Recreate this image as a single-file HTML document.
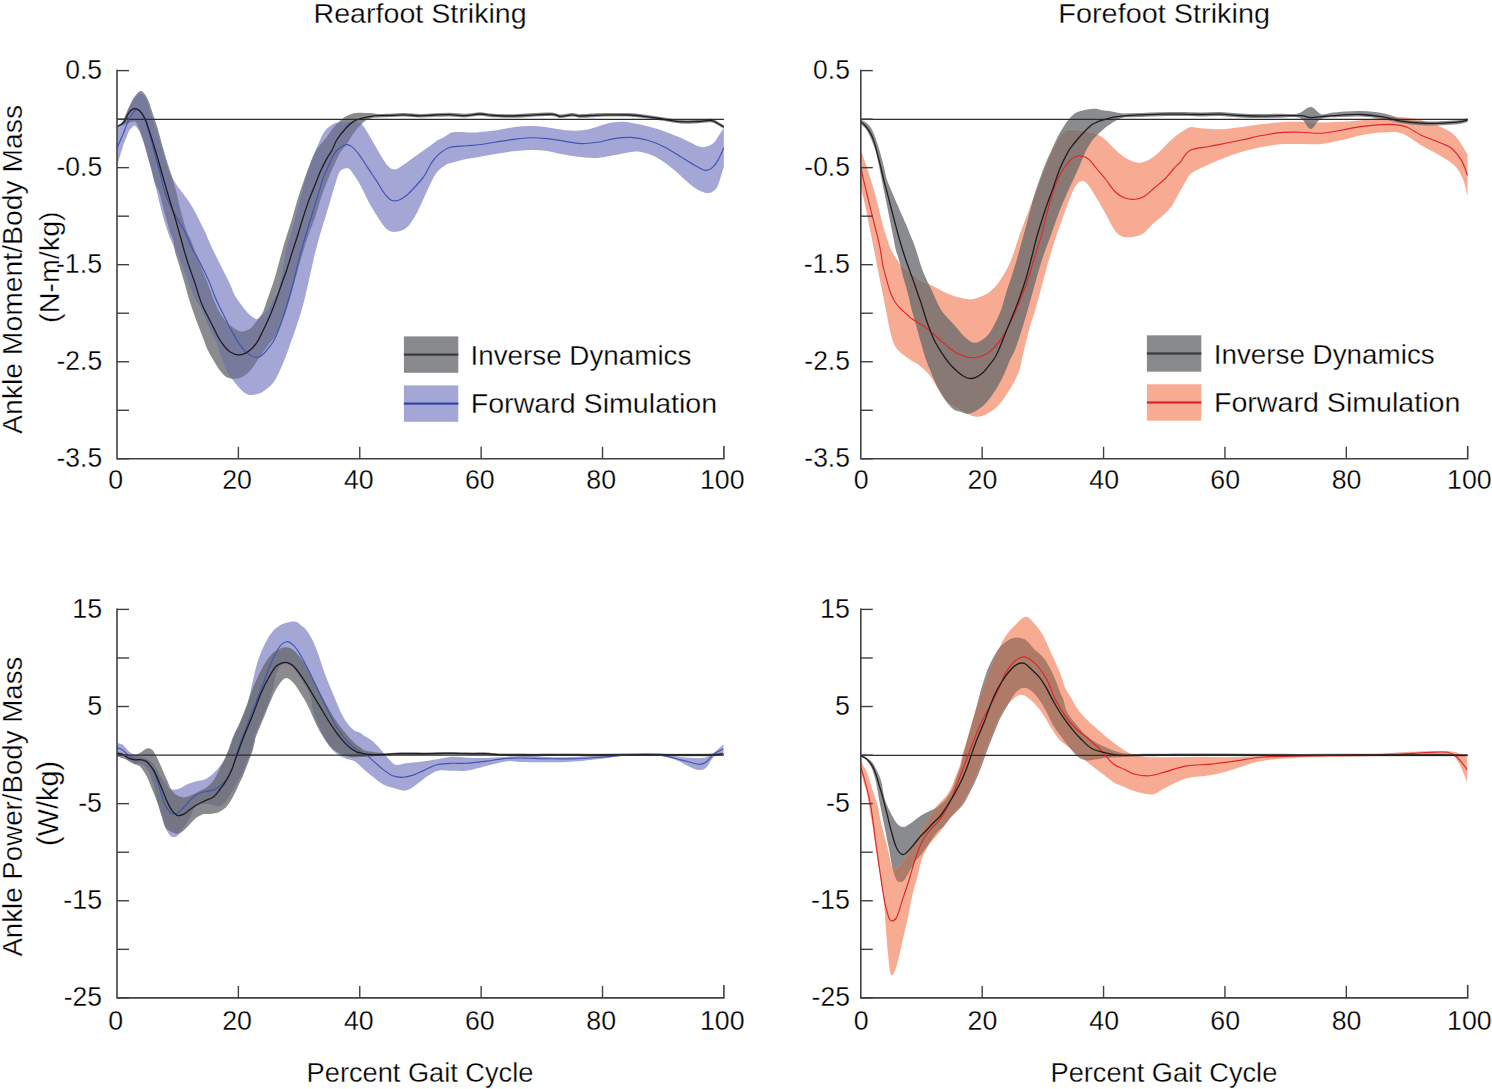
<!DOCTYPE html><html><head><meta charset="utf-8"><style>html,body{margin:0;padding:0;background:#fff;overflow:hidden}svg{display:block}</style></head><body>
<svg width="1492" height="1089" viewBox="0 0 1492 1089" font-family="Liberation Sans, sans-serif"><style>text{stroke:#fff;stroke-width:0.3px;paint-order:fill}</style>
<rect width="1492" height="1089" fill="#fff"/>
<defs><clipPath id="cgTL"><path d="M117.2,125.7 C117.7,125.4 119.2,124.7 120.0,124.1 C120.8,123.5 121.4,123.1 122.0,122.3 C122.6,121.5 122.8,120.9 123.5,119.5 C124.2,118.1 125.2,115.8 126.0,114.0 C126.8,112.2 127.3,110.7 128.4,108.4 C129.5,106.1 131.3,102.2 132.5,100.0 C133.7,97.8 134.1,97.0 135.5,95.5 C136.9,94.0 139.1,90.6 141.1,91.1 C143.1,91.6 145.6,95.1 147.4,98.4 C149.2,101.8 150.3,106.3 152.0,111.2 C153.7,116.1 155.6,121.3 157.5,127.8 C159.4,134.3 161.9,144.1 163.6,150.0 C165.3,155.9 166.2,158.8 167.5,163.0 C168.8,167.2 170.0,170.5 171.4,175.0 C172.8,179.5 174.5,185.0 175.8,190.0 C177.1,195.0 178.1,200.1 179.3,205.2 C180.6,210.2 182.0,215.7 183.3,220.3 C184.7,224.9 186.1,229.6 187.4,232.9 C188.7,236.2 189.5,236.5 190.9,240.0 C192.3,243.5 194.2,249.2 195.9,253.8 C197.7,258.4 199.6,262.9 201.4,267.5 C203.2,272.1 205.2,276.7 206.9,281.3 C208.7,285.9 210.4,291.1 211.9,295.0 C213.4,298.9 214.4,301.7 215.9,304.9 C217.4,308.1 219.0,311.4 220.8,314.3 C222.6,317.2 224.8,320.2 226.9,322.5 C229.0,324.8 231.3,326.6 233.5,328.1 C235.7,329.6 238.1,330.9 240.1,331.4 C242.1,331.8 243.8,331.4 245.6,330.8 C247.4,330.2 249.3,329.8 251.1,328.1 C252.9,326.5 255.1,322.8 256.6,320.9 C258.1,319.0 258.8,318.6 259.9,317.0 C261.0,315.4 262.2,313.8 263.2,311.5 C264.2,309.2 264.9,306.8 266.0,303.5 C267.1,300.2 268.8,295.6 270.0,292.0 C271.2,288.4 272.3,285.7 273.5,282.0 C274.7,278.3 275.6,274.9 277.0,270.0 C278.4,265.1 280.1,258.3 281.7,252.5 C283.3,246.7 285.1,240.8 286.9,235.0 C288.7,229.2 290.8,223.3 292.5,217.5 C294.2,211.7 295.9,204.9 297.4,200.1 C298.8,195.3 299.9,192.4 301.2,188.6 C302.5,184.8 303.8,180.5 305.1,177.0 C306.4,173.5 307.7,170.6 308.9,167.4 C310.1,164.2 311.2,160.9 312.5,158.0 C313.8,155.1 315.2,152.2 316.5,150.0 C317.8,147.8 318.3,147.2 320.0,145.0 C321.7,142.8 324.3,140.1 326.7,137.0 C329.1,133.9 331.9,129.4 334.1,126.7 C336.3,124.0 338.1,122.6 340.0,120.9 C341.9,119.2 343.6,117.6 345.8,116.4 C348.0,115.2 351.0,114.1 353.2,113.5 C355.4,112.9 357.2,112.9 359.1,112.8 C361.1,112.7 362.9,113.0 364.9,113.0 C366.9,113.0 368.8,112.8 371.0,113.0 C373.2,113.2 374.6,113.8 378.2,113.9 C381.8,114.0 388.4,113.7 392.9,113.5 C397.4,113.3 400.5,112.9 405.0,113.0 C409.5,113.1 415.0,114.0 420.0,114.0 C425.0,114.0 430.0,113.4 435.0,113.2 C440.0,113.0 445.0,112.7 450.0,112.8 C455.0,112.9 460.0,113.9 465.0,113.8 C470.0,113.7 475.3,112.2 480.0,112.2 C484.7,112.2 487.8,113.4 493.4,113.7 C499.0,114.0 507.4,114.3 513.5,114.2 C519.6,114.1 523.9,113.6 530.3,113.3 C536.7,113.0 547.0,112.3 552.0,112.5 C557.0,112.7 557.0,114.4 560.4,114.5 C563.8,114.6 568.9,113.0 572.2,113.0 C575.6,113.0 576.3,114.2 580.5,114.2 C584.7,114.2 592.3,113.5 597.3,113.3 C602.3,113.1 605.1,113.0 610.7,113.0 C616.3,113.0 624.6,112.9 630.8,113.2 C636.9,113.5 642.0,114.3 647.6,115.0 C653.2,115.7 658.7,116.7 664.3,117.5 C669.9,118.3 675.5,119.6 681.1,120.0 C686.7,120.4 692.8,119.9 697.8,119.7 C702.8,119.5 707.9,118.4 711.2,118.7 C714.6,119.0 715.8,120.6 717.9,121.7 C720.0,122.8 722.8,124.5 723.8,125.1 L723.8,128.7 C722.8,128.1 720.0,126.4 717.9,125.3 C715.8,124.2 714.6,122.6 711.2,122.3 C707.9,122.0 702.8,123.1 697.8,123.3 C692.8,123.5 686.7,124.0 681.1,123.6 C675.5,123.2 669.9,121.9 664.3,121.1 C658.7,120.3 653.2,119.3 647.6,118.6 C642.0,117.9 636.9,117.1 630.8,116.8 C624.6,116.5 616.3,116.6 610.7,116.6 C605.1,116.6 602.3,116.7 597.3,116.9 C592.3,117.1 584.7,117.8 580.5,117.8 C576.3,117.8 575.6,116.5 572.2,116.6 C568.9,116.6 563.8,118.2 560.4,118.1 C557.0,118.0 557.0,116.3 552.0,116.1 C547.0,115.9 536.7,116.6 530.3,116.9 C523.9,117.2 519.6,117.7 513.5,117.8 C507.4,117.9 499.0,117.6 493.4,117.3 C487.8,117.0 484.7,115.8 480.0,115.8 C475.3,115.8 470.0,117.3 465.0,117.4 C460.0,117.5 455.0,116.5 450.0,116.4 C445.0,116.3 440.0,116.6 435.0,116.8 C430.0,117.0 425.0,117.6 420.0,117.6 C415.0,117.6 409.5,116.7 405.0,116.6 C400.5,116.5 397.4,116.9 392.9,117.1 C388.4,117.2 381.6,117.3 378.2,117.5 C374.8,117.7 374.5,117.4 372.3,118.0 C370.1,118.6 367.2,119.5 365.0,120.9 C362.8,122.4 361.0,124.5 359.0,126.7 C357.0,128.9 355.4,130.9 353.2,134.1 C350.9,137.3 347.7,142.9 345.5,146.0 C343.3,149.1 342.1,149.3 340.0,152.9 C337.9,156.5 335.2,162.6 333.0,167.4 C330.8,172.2 329.0,176.7 327.0,181.8 C325.0,186.9 323.0,192.2 321.0,198.2 C319.0,204.1 317.2,211.4 315.1,217.5 C313.0,223.6 310.6,229.2 308.5,235.0 C306.4,240.8 304.6,246.7 302.8,252.5 C301.0,258.3 299.6,263.7 297.8,270.0 C296.0,276.3 294.1,283.6 292.2,290.4 C290.3,297.2 288.2,304.7 286.2,310.6 C284.2,316.5 282.1,321.2 280.1,325.8 C278.1,330.4 275.8,334.9 274.0,337.9 C272.2,340.9 271.2,341.2 269.4,343.6 C267.6,346.0 265.3,349.3 263.3,352.1 C261.3,354.9 259.0,358.0 257.3,360.5 C255.6,363.0 254.6,365.1 253.1,367.1 C251.6,369.1 249.9,371.1 248.3,372.6 C246.7,374.1 245.2,375.2 243.4,376.2 C241.6,377.2 239.4,378.2 237.4,378.6 C235.4,379.0 233.3,378.9 231.4,378.6 C229.5,378.3 227.6,377.9 225.9,376.8 C224.2,375.7 222.6,373.8 221.1,372.0 C219.6,370.2 218.4,368.2 216.9,365.9 C215.4,363.6 213.7,360.9 212.1,358.1 C210.5,355.3 208.4,351.5 207.2,349.0 C206.0,346.5 205.9,345.5 205.0,343.0 C204.1,340.5 202.8,337.4 201.5,334.0 C200.2,330.6 198.7,326.7 197.1,322.5 C195.5,318.3 193.8,313.4 192.2,308.8 C190.6,304.2 189.0,299.1 187.8,295.0 C186.6,290.9 185.9,287.8 184.8,284.1 C183.8,280.5 182.6,276.8 181.5,273.1 C180.4,269.4 179.3,265.7 178.2,262.0 C177.1,258.3 175.7,254.7 174.9,251.0 C174.1,247.3 174.1,243.0 173.3,240.0 C172.5,237.0 171.3,236.2 170.2,232.9 C169.1,229.6 168.0,224.9 166.7,220.3 C165.4,215.7 163.7,209.4 162.6,205.2 C161.5,201.0 160.7,197.5 160.0,195.0 C159.3,192.5 159.0,191.5 158.3,190.0 C157.6,188.5 156.6,187.8 155.8,186.0 C155.0,184.2 154.2,181.7 153.5,179.0 C152.8,176.3 152.2,172.8 151.5,170.0 C150.8,167.2 150.2,164.9 149.5,162.4 C148.8,159.9 148.2,157.7 147.5,155.0 C146.8,152.3 145.9,149.0 145.0,146.0 C144.1,143.0 143.1,140.1 142.0,137.0 C140.9,133.9 139.7,130.1 138.5,127.5 C137.3,124.9 136.6,122.2 135.0,121.5 C133.4,120.8 130.8,122.5 129.0,123.0 C127.2,123.5 126.0,124.0 124.0,124.8 C122.0,125.6 118.3,127.3 117.2,127.8 Z"/></clipPath></defs>
<path d="M117.2,125.7 C117.7,125.4 119.2,124.7 120.0,124.1 C120.8,123.5 121.4,123.1 122.0,122.3 C122.6,121.5 122.8,120.9 123.5,119.5 C124.2,118.1 125.2,115.8 126.0,114.0 C126.8,112.2 127.3,110.7 128.4,108.4 C129.5,106.1 131.3,102.2 132.5,100.0 C133.7,97.8 134.1,97.0 135.5,95.5 C136.9,94.0 139.1,90.6 141.1,91.1 C143.1,91.6 145.6,95.1 147.4,98.4 C149.2,101.8 150.3,106.3 152.0,111.2 C153.7,116.1 155.6,121.3 157.5,127.8 C159.4,134.3 161.9,144.1 163.6,150.0 C165.3,155.9 166.2,158.8 167.5,163.0 C168.8,167.2 170.0,170.5 171.4,175.0 C172.8,179.5 174.5,185.0 175.8,190.0 C177.1,195.0 178.1,200.1 179.3,205.2 C180.6,210.2 182.0,215.7 183.3,220.3 C184.7,224.9 186.1,229.6 187.4,232.9 C188.7,236.2 189.5,236.5 190.9,240.0 C192.3,243.5 194.2,249.2 195.9,253.8 C197.7,258.4 199.6,262.9 201.4,267.5 C203.2,272.1 205.2,276.7 206.9,281.3 C208.7,285.9 210.4,291.1 211.9,295.0 C213.4,298.9 214.4,301.7 215.9,304.9 C217.4,308.1 219.0,311.4 220.8,314.3 C222.6,317.2 224.8,320.2 226.9,322.5 C229.0,324.8 231.3,326.6 233.5,328.1 C235.7,329.6 238.1,330.9 240.1,331.4 C242.1,331.8 243.8,331.4 245.6,330.8 C247.4,330.2 249.3,329.8 251.1,328.1 C252.9,326.5 255.1,322.8 256.6,320.9 C258.1,319.0 258.8,318.6 259.9,317.0 C261.0,315.4 262.2,313.8 263.2,311.5 C264.2,309.2 264.9,306.8 266.0,303.5 C267.1,300.2 268.8,295.6 270.0,292.0 C271.2,288.4 272.3,285.7 273.5,282.0 C274.7,278.3 275.6,274.9 277.0,270.0 C278.4,265.1 280.1,258.3 281.7,252.5 C283.3,246.7 285.1,240.8 286.9,235.0 C288.7,229.2 290.8,223.3 292.5,217.5 C294.2,211.7 295.9,204.9 297.4,200.1 C298.8,195.3 299.9,192.4 301.2,188.6 C302.5,184.8 303.8,180.5 305.1,177.0 C306.4,173.5 307.7,170.6 308.9,167.4 C310.1,164.2 311.2,160.9 312.5,158.0 C313.8,155.1 315.2,152.2 316.5,150.0 C317.8,147.8 318.3,147.2 320.0,145.0 C321.7,142.8 324.3,140.1 326.7,137.0 C329.1,133.9 331.9,129.4 334.1,126.7 C336.3,124.0 338.1,122.6 340.0,120.9 C341.9,119.2 343.6,117.6 345.8,116.4 C348.0,115.2 351.0,114.1 353.2,113.5 C355.4,112.9 357.2,112.9 359.1,112.8 C361.1,112.7 362.9,113.0 364.9,113.0 C366.9,113.0 368.8,112.8 371.0,113.0 C373.2,113.2 374.6,113.8 378.2,113.9 C381.8,114.0 388.4,113.7 392.9,113.5 C397.4,113.3 400.5,112.9 405.0,113.0 C409.5,113.1 415.0,114.0 420.0,114.0 C425.0,114.0 430.0,113.4 435.0,113.2 C440.0,113.0 445.0,112.7 450.0,112.8 C455.0,112.9 460.0,113.9 465.0,113.8 C470.0,113.7 475.3,112.2 480.0,112.2 C484.7,112.2 487.8,113.4 493.4,113.7 C499.0,114.0 507.4,114.3 513.5,114.2 C519.6,114.1 523.9,113.6 530.3,113.3 C536.7,113.0 547.0,112.3 552.0,112.5 C557.0,112.7 557.0,114.4 560.4,114.5 C563.8,114.6 568.9,113.0 572.2,113.0 C575.6,113.0 576.3,114.2 580.5,114.2 C584.7,114.2 592.3,113.5 597.3,113.3 C602.3,113.1 605.1,113.0 610.7,113.0 C616.3,113.0 624.6,112.9 630.8,113.2 C636.9,113.5 642.0,114.3 647.6,115.0 C653.2,115.7 658.7,116.7 664.3,117.5 C669.9,118.3 675.5,119.6 681.1,120.0 C686.7,120.4 692.8,119.9 697.8,119.7 C702.8,119.5 707.9,118.4 711.2,118.7 C714.6,119.0 715.8,120.6 717.9,121.7 C720.0,122.8 722.8,124.5 723.8,125.1 L723.8,128.7 C722.8,128.1 720.0,126.4 717.9,125.3 C715.8,124.2 714.6,122.6 711.2,122.3 C707.9,122.0 702.8,123.1 697.8,123.3 C692.8,123.5 686.7,124.0 681.1,123.6 C675.5,123.2 669.9,121.9 664.3,121.1 C658.7,120.3 653.2,119.3 647.6,118.6 C642.0,117.9 636.9,117.1 630.8,116.8 C624.6,116.5 616.3,116.6 610.7,116.6 C605.1,116.6 602.3,116.7 597.3,116.9 C592.3,117.1 584.7,117.8 580.5,117.8 C576.3,117.8 575.6,116.5 572.2,116.6 C568.9,116.6 563.8,118.2 560.4,118.1 C557.0,118.0 557.0,116.3 552.0,116.1 C547.0,115.9 536.7,116.6 530.3,116.9 C523.9,117.2 519.6,117.7 513.5,117.8 C507.4,117.9 499.0,117.6 493.4,117.3 C487.8,117.0 484.7,115.8 480.0,115.8 C475.3,115.8 470.0,117.3 465.0,117.4 C460.0,117.5 455.0,116.5 450.0,116.4 C445.0,116.3 440.0,116.6 435.0,116.8 C430.0,117.0 425.0,117.6 420.0,117.6 C415.0,117.6 409.5,116.7 405.0,116.6 C400.5,116.5 397.4,116.9 392.9,117.1 C388.4,117.2 381.6,117.3 378.2,117.5 C374.8,117.7 374.5,117.4 372.3,118.0 C370.1,118.6 367.2,119.5 365.0,120.9 C362.8,122.4 361.0,124.5 359.0,126.7 C357.0,128.9 355.4,130.9 353.2,134.1 C350.9,137.3 347.7,142.9 345.5,146.0 C343.3,149.1 342.1,149.3 340.0,152.9 C337.9,156.5 335.2,162.6 333.0,167.4 C330.8,172.2 329.0,176.7 327.0,181.8 C325.0,186.9 323.0,192.2 321.0,198.2 C319.0,204.1 317.2,211.4 315.1,217.5 C313.0,223.6 310.6,229.2 308.5,235.0 C306.4,240.8 304.6,246.7 302.8,252.5 C301.0,258.3 299.6,263.7 297.8,270.0 C296.0,276.3 294.1,283.6 292.2,290.4 C290.3,297.2 288.2,304.7 286.2,310.6 C284.2,316.5 282.1,321.2 280.1,325.8 C278.1,330.4 275.8,334.9 274.0,337.9 C272.2,340.9 271.2,341.2 269.4,343.6 C267.6,346.0 265.3,349.3 263.3,352.1 C261.3,354.9 259.0,358.0 257.3,360.5 C255.6,363.0 254.6,365.1 253.1,367.1 C251.6,369.1 249.9,371.1 248.3,372.6 C246.7,374.1 245.2,375.2 243.4,376.2 C241.6,377.2 239.4,378.2 237.4,378.6 C235.4,379.0 233.3,378.9 231.4,378.6 C229.5,378.3 227.6,377.9 225.9,376.8 C224.2,375.7 222.6,373.8 221.1,372.0 C219.6,370.2 218.4,368.2 216.9,365.9 C215.4,363.6 213.7,360.9 212.1,358.1 C210.5,355.3 208.4,351.5 207.2,349.0 C206.0,346.5 205.9,345.5 205.0,343.0 C204.1,340.5 202.8,337.4 201.5,334.0 C200.2,330.6 198.7,326.7 197.1,322.5 C195.5,318.3 193.8,313.4 192.2,308.8 C190.6,304.2 189.0,299.1 187.8,295.0 C186.6,290.9 185.9,287.8 184.8,284.1 C183.8,280.5 182.6,276.8 181.5,273.1 C180.4,269.4 179.3,265.7 178.2,262.0 C177.1,258.3 175.7,254.7 174.9,251.0 C174.1,247.3 174.1,243.0 173.3,240.0 C172.5,237.0 171.3,236.2 170.2,232.9 C169.1,229.6 168.0,224.9 166.7,220.3 C165.4,215.7 163.7,209.4 162.6,205.2 C161.5,201.0 160.7,197.5 160.0,195.0 C159.3,192.5 159.0,191.5 158.3,190.0 C157.6,188.5 156.6,187.8 155.8,186.0 C155.0,184.2 154.2,181.7 153.5,179.0 C152.8,176.3 152.2,172.8 151.5,170.0 C150.8,167.2 150.2,164.9 149.5,162.4 C148.8,159.9 148.2,157.7 147.5,155.0 C146.8,152.3 145.9,149.0 145.0,146.0 C144.1,143.0 143.1,140.1 142.0,137.0 C140.9,133.9 139.7,130.1 138.5,127.5 C137.3,124.9 136.6,122.2 135.0,121.5 C133.4,120.8 130.8,122.5 129.0,123.0 C127.2,123.5 126.0,124.0 124.0,124.8 C122.0,125.6 118.3,127.3 117.2,127.8 Z" fill="#8a8b8e"/>
<path d="M117.2,127.3 C117.7,127.0 119.2,126.3 120.0,125.8 C120.8,125.3 121.4,125.1 122.0,124.2 C122.6,123.3 122.9,122.1 123.6,120.5 C124.3,118.9 125.2,116.4 126.0,114.5 C126.8,112.6 127.3,111.2 128.4,109.0 C129.5,106.8 131.3,102.9 132.5,101.0 C133.7,99.1 134.1,98.8 135.5,97.5 C136.9,96.2 139.1,93.1 141.0,93.5 C142.9,93.9 145.4,96.9 147.0,100.0 C148.6,103.1 149.0,107.3 150.5,112.0 C152.0,116.7 154.2,122.3 156.0,128.0 C157.8,133.7 159.8,140.0 161.6,146.0 C163.4,152.0 165.5,159.1 167.1,164.0 C168.7,168.9 169.6,172.3 171.1,175.6 C172.6,178.9 174.5,181.6 176.0,184.0 C177.5,186.4 178.3,187.3 180.3,190.0 C182.3,192.7 185.4,196.3 187.9,200.1 C190.4,203.9 193.4,208.9 195.5,212.7 C197.6,216.5 198.8,219.4 200.5,222.8 C202.2,226.2 204.3,230.0 205.6,232.9 C206.9,235.8 207.2,237.0 208.5,240.0 C209.8,243.0 211.8,247.3 213.5,251.0 C215.2,254.7 217.2,258.3 219.0,262.0 C220.8,265.7 222.7,269.4 224.5,273.1 C226.3,276.8 228.3,280.5 230.0,284.1 C231.7,287.8 232.9,291.8 234.6,295.0 C236.3,298.2 238.3,300.7 240.1,303.3 C241.9,305.9 243.8,308.3 245.6,310.4 C247.4,312.5 249.3,314.4 251.1,315.9 C252.9,317.4 255.3,318.8 256.6,319.2 C257.9,319.6 257.9,318.8 258.8,318.1 C259.7,317.4 260.7,316.2 262.0,315.0 C263.3,313.8 265.1,312.7 266.5,311.0 C267.9,309.3 269.2,307.2 270.5,305.0 C271.8,302.8 272.8,300.4 274.0,298.0 C275.2,295.6 276.6,295.1 278.0,290.4 C279.4,285.7 281.2,276.3 282.4,270.0 C283.6,263.7 283.8,258.3 285.1,252.5 C286.4,246.7 288.7,240.8 290.4,235.0 C292.1,229.2 293.7,223.2 295.2,217.5 C296.7,211.8 298.1,205.9 299.3,201.1 C300.5,196.3 301.2,193.4 302.5,188.6 C303.8,183.8 305.4,177.0 307.0,172.2 C308.6,167.4 310.4,163.3 311.8,159.6 C313.2,155.9 314.7,152.4 315.7,150.0 C316.7,147.6 316.6,147.9 318.0,145.0 C319.4,142.1 321.6,135.9 323.8,132.6 C326.0,129.3 328.7,127.0 331.1,125.3 C333.6,123.6 336.1,122.9 338.5,122.3 C340.9,121.7 343.1,121.7 345.8,121.6 C348.5,121.5 351.9,121.1 354.6,121.6 C357.3,122.1 359.6,122.2 362.0,124.5 C364.4,126.8 367.1,131.9 369.3,135.5 C371.5,139.1 373.2,142.4 375.2,145.8 C377.2,149.2 379.1,152.9 381.1,156.1 C383.1,159.3 385.0,162.7 387.0,164.9 C389.0,167.1 390.9,168.8 392.9,169.3 C394.8,169.8 396.3,169.1 398.7,167.9 C401.1,166.7 404.3,164.2 407.5,162.0 C410.7,159.8 414.4,157.0 417.8,154.6 C421.2,152.2 424.9,149.6 428.1,147.3 C431.3,145.0 434.2,142.4 436.9,140.7 C439.6,139.0 441.9,138.3 444.3,137.0 C446.8,135.7 449.2,133.4 451.6,132.6 C454.1,131.8 455.3,131.9 459.0,131.9 C462.7,131.9 470.2,132.6 473.7,132.6 C477.2,132.6 476.1,132.3 480.0,131.9 C483.9,131.5 491.2,131.0 496.8,130.2 C502.4,129.4 507.9,127.9 513.5,127.2 C519.1,126.5 524.7,126.0 530.3,126.0 C535.9,126.0 541.4,126.5 547.0,127.2 C552.6,127.9 558.2,129.3 563.8,129.9 C569.4,130.5 575.5,130.9 580.5,130.5 C585.5,130.1 589.4,128.9 593.9,127.7 C598.4,126.5 602.5,124.5 607.3,123.5 C612.0,122.5 617.1,121.7 622.4,121.8 C627.7,121.9 633.6,123.2 639.2,124.3 C644.8,125.4 650.3,126.8 655.9,128.5 C661.5,130.2 667.1,132.2 672.7,134.4 C678.3,136.6 685.3,140.0 689.5,141.9 C693.7,143.8 695.3,145.2 697.8,146.1 C700.3,146.9 702.0,147.4 704.5,147.0 C707.0,146.6 710.7,145.3 712.9,143.6 C715.1,141.9 716.1,139.6 717.9,136.9 C719.7,134.2 722.8,129.2 723.8,127.7 L723.8,167.1 C722.8,170.2 719.7,181.4 717.9,185.5 C716.1,189.6 714.8,190.2 712.9,191.4 C711.0,192.7 708.7,193.3 706.2,193.0 C703.7,192.7 700.6,191.2 697.8,189.7 C695.0,188.2 693.7,187.3 689.5,183.8 C685.3,180.3 678.3,173.3 672.7,168.8 C667.1,164.3 661.2,159.8 655.9,157.0 C650.6,154.2 645.1,152.8 640.9,152.0 C636.7,151.2 635.3,151.4 630.8,152.0 C626.3,152.6 619.6,154.3 614.0,155.3 C608.4,156.3 602.9,157.6 597.3,157.9 C591.7,158.2 586.1,157.6 580.5,157.0 C574.9,156.4 569.4,155.5 563.8,154.5 C558.2,153.5 552.6,151.8 547.0,151.0 C541.4,150.2 535.9,149.9 530.3,150.0 C524.7,150.1 519.1,150.7 513.5,151.3 C507.9,151.9 502.4,152.8 496.8,153.7 C491.2,154.6 485.1,155.8 480.0,156.7 C474.9,157.6 470.5,158.2 466.3,159.1 C462.1,160.0 458.0,161.0 454.6,162.0 C451.2,163.0 448.6,163.2 445.7,164.9 C442.8,166.6 439.6,168.9 436.9,172.3 C434.2,175.7 432.1,180.6 429.6,185.5 C427.2,190.4 424.6,196.5 422.2,201.7 C419.8,206.8 417.6,212.0 414.9,216.4 C412.2,220.8 409.3,225.5 406.1,228.1 C402.9,230.7 399.0,231.6 395.8,231.8 C392.6,232.1 389.9,231.9 387.0,229.6 C384.1,227.3 381.1,222.2 378.2,217.8 C375.2,213.4 372.2,208.5 369.3,203.1 C366.4,197.7 363.2,190.4 360.5,185.5 C357.8,180.6 355.4,176.6 353.2,173.7 C351.0,170.8 349.7,168.7 347.5,168.3 C345.3,167.9 341.9,168.9 340.0,171.2 C338.1,173.4 337.5,177.3 336.0,181.8 C334.5,186.3 332.8,192.2 331.0,198.2 C329.2,204.1 327.2,211.4 325.3,217.5 C323.4,223.6 321.6,229.2 319.9,235.0 C318.2,240.8 316.6,246.7 315.2,252.5 C313.8,258.3 313.0,262.0 311.2,270.0 C309.4,278.0 306.4,292.1 304.3,300.5 C302.2,308.9 300.2,314.8 298.3,320.7 C296.4,326.6 294.5,332.2 293.2,335.9 C291.9,339.6 291.4,340.3 290.5,343.0 C289.6,345.7 288.7,348.8 287.5,352.1 C286.3,355.4 284.7,359.3 283.2,362.9 C281.7,366.5 280.0,370.6 278.4,373.8 C276.8,377.0 275.4,379.8 273.6,382.2 C271.8,384.6 269.6,386.6 267.6,388.3 C265.6,390.0 263.5,391.4 261.5,392.5 C259.5,393.6 257.5,394.2 255.5,394.6 C253.5,395.0 251.5,395.3 249.5,394.9 C247.5,394.4 245.4,393.4 243.4,391.9 C241.4,390.4 239.1,387.7 237.4,385.8 C235.7,383.9 234.0,381.5 233.0,380.3 C232.0,379.1 232.3,379.7 231.4,378.6 C230.5,377.5 229.0,376.2 227.7,373.8 C226.4,371.4 224.9,367.7 223.5,364.1 C222.1,360.5 220.6,355.8 219.3,352.1 C218.0,348.4 217.1,345.1 215.8,342.0 C214.5,338.9 213.0,336.9 211.4,333.6 C209.8,330.4 208.2,326.6 206.5,322.5 C204.8,318.4 202.8,312.6 201.0,308.8 C199.2,305.1 197.4,303.6 195.5,300.0 C193.6,296.4 191.4,291.0 189.8,287.0 C188.2,283.0 187.3,279.7 185.9,276.0 C184.5,272.3 182.9,268.7 181.5,265.0 C180.1,261.3 178.9,256.8 177.7,254.0 C176.5,251.2 175.6,250.2 174.5,248.0 C173.4,245.8 172.4,243.5 171.3,241.0 C170.2,238.5 169.4,236.3 168.2,232.9 C167.0,229.5 165.4,224.9 164.1,220.3 C162.8,215.7 161.3,210.2 160.1,205.2 C158.8,200.1 157.5,194.2 156.6,190.0 C155.7,185.8 155.3,183.2 154.5,180.0 C153.7,176.8 152.8,174.0 151.8,170.7 C150.8,167.4 149.5,163.4 148.5,160.0 C147.5,156.6 146.8,153.5 145.8,150.0 C144.8,146.5 143.6,142.1 142.5,139.0 C141.4,135.9 140.8,133.6 139.5,131.4 C138.2,129.2 136.2,126.4 135.0,125.7 C133.8,125.0 133.0,126.6 132.0,127.5 C131.0,128.4 130.0,129.2 129.0,131.0 C128.0,132.8 127.0,136.0 126.0,138.5 C125.0,141.0 124.5,141.6 123.0,146.1 C121.5,150.6 118.2,162.2 117.2,165.4 Z" fill="#a4a6d6"/>
<path d="M117.2,127.3 C117.7,127.0 119.2,126.3 120.0,125.8 C120.8,125.3 121.4,125.1 122.0,124.2 C122.6,123.3 122.9,122.1 123.6,120.5 C124.3,118.9 125.2,116.4 126.0,114.5 C126.8,112.6 127.3,111.2 128.4,109.0 C129.5,106.8 131.3,102.9 132.5,101.0 C133.7,99.1 134.1,98.8 135.5,97.5 C136.9,96.2 139.1,93.1 141.0,93.5 C142.9,93.9 145.4,96.9 147.0,100.0 C148.6,103.1 149.0,107.3 150.5,112.0 C152.0,116.7 154.2,122.3 156.0,128.0 C157.8,133.7 159.8,140.0 161.6,146.0 C163.4,152.0 165.5,159.1 167.1,164.0 C168.7,168.9 169.6,172.3 171.1,175.6 C172.6,178.9 174.5,181.6 176.0,184.0 C177.5,186.4 178.3,187.3 180.3,190.0 C182.3,192.7 185.4,196.3 187.9,200.1 C190.4,203.9 193.4,208.9 195.5,212.7 C197.6,216.5 198.8,219.4 200.5,222.8 C202.2,226.2 204.3,230.0 205.6,232.9 C206.9,235.8 207.2,237.0 208.5,240.0 C209.8,243.0 211.8,247.3 213.5,251.0 C215.2,254.7 217.2,258.3 219.0,262.0 C220.8,265.7 222.7,269.4 224.5,273.1 C226.3,276.8 228.3,280.5 230.0,284.1 C231.7,287.8 232.9,291.8 234.6,295.0 C236.3,298.2 238.3,300.7 240.1,303.3 C241.9,305.9 243.8,308.3 245.6,310.4 C247.4,312.5 249.3,314.4 251.1,315.9 C252.9,317.4 255.3,318.8 256.6,319.2 C257.9,319.6 257.9,318.8 258.8,318.1 C259.7,317.4 260.7,316.2 262.0,315.0 C263.3,313.8 265.1,312.7 266.5,311.0 C267.9,309.3 269.2,307.2 270.5,305.0 C271.8,302.8 272.8,300.4 274.0,298.0 C275.2,295.6 276.6,295.1 278.0,290.4 C279.4,285.7 281.2,276.3 282.4,270.0 C283.6,263.7 283.8,258.3 285.1,252.5 C286.4,246.7 288.7,240.8 290.4,235.0 C292.1,229.2 293.7,223.2 295.2,217.5 C296.7,211.8 298.1,205.9 299.3,201.1 C300.5,196.3 301.2,193.4 302.5,188.6 C303.8,183.8 305.4,177.0 307.0,172.2 C308.6,167.4 310.4,163.3 311.8,159.6 C313.2,155.9 314.7,152.4 315.7,150.0 C316.7,147.6 316.6,147.9 318.0,145.0 C319.4,142.1 321.6,135.9 323.8,132.6 C326.0,129.3 328.7,127.0 331.1,125.3 C333.6,123.6 336.1,122.9 338.5,122.3 C340.9,121.7 343.1,121.7 345.8,121.6 C348.5,121.5 351.9,121.1 354.6,121.6 C357.3,122.1 359.6,122.2 362.0,124.5 C364.4,126.8 367.1,131.9 369.3,135.5 C371.5,139.1 373.2,142.4 375.2,145.8 C377.2,149.2 379.1,152.9 381.1,156.1 C383.1,159.3 385.0,162.7 387.0,164.9 C389.0,167.1 390.9,168.8 392.9,169.3 C394.8,169.8 396.3,169.1 398.7,167.9 C401.1,166.7 404.3,164.2 407.5,162.0 C410.7,159.8 414.4,157.0 417.8,154.6 C421.2,152.2 424.9,149.6 428.1,147.3 C431.3,145.0 434.2,142.4 436.9,140.7 C439.6,139.0 441.9,138.3 444.3,137.0 C446.8,135.7 449.2,133.4 451.6,132.6 C454.1,131.8 455.3,131.9 459.0,131.9 C462.7,131.9 470.2,132.6 473.7,132.6 C477.2,132.6 476.1,132.3 480.0,131.9 C483.9,131.5 491.2,131.0 496.8,130.2 C502.4,129.4 507.9,127.9 513.5,127.2 C519.1,126.5 524.7,126.0 530.3,126.0 C535.9,126.0 541.4,126.5 547.0,127.2 C552.6,127.9 558.2,129.3 563.8,129.9 C569.4,130.5 575.5,130.9 580.5,130.5 C585.5,130.1 589.4,128.9 593.9,127.7 C598.4,126.5 602.5,124.5 607.3,123.5 C612.0,122.5 617.1,121.7 622.4,121.8 C627.7,121.9 633.6,123.2 639.2,124.3 C644.8,125.4 650.3,126.8 655.9,128.5 C661.5,130.2 667.1,132.2 672.7,134.4 C678.3,136.6 685.3,140.0 689.5,141.9 C693.7,143.8 695.3,145.2 697.8,146.1 C700.3,146.9 702.0,147.4 704.5,147.0 C707.0,146.6 710.7,145.3 712.9,143.6 C715.1,141.9 716.1,139.6 717.9,136.9 C719.7,134.2 722.8,129.2 723.8,127.7 L723.8,167.1 C722.8,170.2 719.7,181.4 717.9,185.5 C716.1,189.6 714.8,190.2 712.9,191.4 C711.0,192.7 708.7,193.3 706.2,193.0 C703.7,192.7 700.6,191.2 697.8,189.7 C695.0,188.2 693.7,187.3 689.5,183.8 C685.3,180.3 678.3,173.3 672.7,168.8 C667.1,164.3 661.2,159.8 655.9,157.0 C650.6,154.2 645.1,152.8 640.9,152.0 C636.7,151.2 635.3,151.4 630.8,152.0 C626.3,152.6 619.6,154.3 614.0,155.3 C608.4,156.3 602.9,157.6 597.3,157.9 C591.7,158.2 586.1,157.6 580.5,157.0 C574.9,156.4 569.4,155.5 563.8,154.5 C558.2,153.5 552.6,151.8 547.0,151.0 C541.4,150.2 535.9,149.9 530.3,150.0 C524.7,150.1 519.1,150.7 513.5,151.3 C507.9,151.9 502.4,152.8 496.8,153.7 C491.2,154.6 485.1,155.8 480.0,156.7 C474.9,157.6 470.5,158.2 466.3,159.1 C462.1,160.0 458.0,161.0 454.6,162.0 C451.2,163.0 448.6,163.2 445.7,164.9 C442.8,166.6 439.6,168.9 436.9,172.3 C434.2,175.7 432.1,180.6 429.6,185.5 C427.2,190.4 424.6,196.5 422.2,201.7 C419.8,206.8 417.6,212.0 414.9,216.4 C412.2,220.8 409.3,225.5 406.1,228.1 C402.9,230.7 399.0,231.6 395.8,231.8 C392.6,232.1 389.9,231.9 387.0,229.6 C384.1,227.3 381.1,222.2 378.2,217.8 C375.2,213.4 372.2,208.5 369.3,203.1 C366.4,197.7 363.2,190.4 360.5,185.5 C357.8,180.6 355.4,176.6 353.2,173.7 C351.0,170.8 349.7,168.7 347.5,168.3 C345.3,167.9 341.9,168.9 340.0,171.2 C338.1,173.4 337.5,177.3 336.0,181.8 C334.5,186.3 332.8,192.2 331.0,198.2 C329.2,204.1 327.2,211.4 325.3,217.5 C323.4,223.6 321.6,229.2 319.9,235.0 C318.2,240.8 316.6,246.7 315.2,252.5 C313.8,258.3 313.0,262.0 311.2,270.0 C309.4,278.0 306.4,292.1 304.3,300.5 C302.2,308.9 300.2,314.8 298.3,320.7 C296.4,326.6 294.5,332.2 293.2,335.9 C291.9,339.6 291.4,340.3 290.5,343.0 C289.6,345.7 288.7,348.8 287.5,352.1 C286.3,355.4 284.7,359.3 283.2,362.9 C281.7,366.5 280.0,370.6 278.4,373.8 C276.8,377.0 275.4,379.8 273.6,382.2 C271.8,384.6 269.6,386.6 267.6,388.3 C265.6,390.0 263.5,391.4 261.5,392.5 C259.5,393.6 257.5,394.2 255.5,394.6 C253.5,395.0 251.5,395.3 249.5,394.9 C247.5,394.4 245.4,393.4 243.4,391.9 C241.4,390.4 239.1,387.7 237.4,385.8 C235.7,383.9 234.0,381.5 233.0,380.3 C232.0,379.1 232.3,379.7 231.4,378.6 C230.5,377.5 229.0,376.2 227.7,373.8 C226.4,371.4 224.9,367.7 223.5,364.1 C222.1,360.5 220.6,355.8 219.3,352.1 C218.0,348.4 217.1,345.1 215.8,342.0 C214.5,338.9 213.0,336.9 211.4,333.6 C209.8,330.4 208.2,326.6 206.5,322.5 C204.8,318.4 202.8,312.6 201.0,308.8 C199.2,305.1 197.4,303.6 195.5,300.0 C193.6,296.4 191.4,291.0 189.8,287.0 C188.2,283.0 187.3,279.7 185.9,276.0 C184.5,272.3 182.9,268.7 181.5,265.0 C180.1,261.3 178.9,256.8 177.7,254.0 C176.5,251.2 175.6,250.2 174.5,248.0 C173.4,245.8 172.4,243.5 171.3,241.0 C170.2,238.5 169.4,236.3 168.2,232.9 C167.0,229.5 165.4,224.9 164.1,220.3 C162.8,215.7 161.3,210.2 160.1,205.2 C158.8,200.1 157.5,194.2 156.6,190.0 C155.7,185.8 155.3,183.2 154.5,180.0 C153.7,176.8 152.8,174.0 151.8,170.7 C150.8,167.4 149.5,163.4 148.5,160.0 C147.5,156.6 146.8,153.5 145.8,150.0 C144.8,146.5 143.6,142.1 142.5,139.0 C141.4,135.9 140.8,133.6 139.5,131.4 C138.2,129.2 136.2,126.4 135.0,125.7 C133.8,125.0 133.0,126.6 132.0,127.5 C131.0,128.4 130.0,129.2 129.0,131.0 C128.0,132.8 127.0,136.0 126.0,138.5 C125.0,141.0 124.5,141.6 123.0,146.1 C121.5,150.6 118.2,162.2 117.2,165.4 Z" fill="#777a9b" clip-path="url(#cgTL)"/>
<path d="M117,119.3 H723.9" stroke="#2c2c2c" stroke-width="1.35"/>
<path d="M117.0,148.0 C118.0,145.7 121.1,138.8 123.0,134.2 C124.9,129.6 126.5,124.4 128.5,120.4 C130.5,116.4 133.4,112.0 135.0,110.3 C136.6,108.6 137.0,109.5 138.0,110.0 C139.0,110.5 139.7,111.0 141.0,113.0 C142.3,115.0 144.7,118.8 146.0,122.0 C147.3,125.2 147.7,127.3 149.0,132.0 C150.3,136.7 152.6,145.3 153.9,150.0 C155.2,154.7 155.7,156.7 156.6,160.0 C157.5,163.3 158.4,166.7 159.3,170.0 C160.2,173.3 161.0,176.7 161.8,180.0 C162.6,183.3 163.4,187.2 164.2,190.0 C165.0,192.8 165.5,194.5 166.5,197.0 C167.5,199.5 168.9,202.5 170.2,205.2 C171.4,207.9 172.7,210.5 174.0,213.0 C175.3,215.5 177.0,218.1 178.3,220.3 C179.6,222.6 180.8,224.4 182.0,226.5 C183.2,228.6 184.4,230.8 185.4,232.9 C186.4,235.0 187.2,237.0 188.0,239.0 C188.8,241.0 189.5,243.0 190.4,245.0 C191.3,247.0 192.1,248.2 193.6,251.0 C195.1,253.8 197.8,258.3 199.7,262.0 C201.6,265.7 203.4,269.4 205.2,273.1 C206.9,276.8 208.7,280.5 210.2,284.1 C211.7,287.8 212.7,291.4 214.2,295.0 C215.7,298.6 217.4,302.3 219.2,306.0 C220.9,309.7 222.9,313.3 224.7,317.0 C226.5,320.7 228.3,324.4 230.2,328.1 C232.1,331.8 234.2,335.8 236.2,339.1 C238.2,342.4 240.2,345.3 242.2,347.8 C244.2,350.3 246.0,352.3 248.3,353.9 C250.6,355.5 253.8,357.3 256.1,357.5 C258.4,357.7 260.4,356.2 262.1,355.1 C263.8,354.0 264.3,353.4 266.3,350.9 C268.3,348.4 271.9,344.2 274.2,340.0 C276.5,335.8 278.4,330.3 280.1,325.8 C281.8,321.3 283.1,317.2 284.5,313.0 C285.9,308.8 286.9,305.0 288.2,300.5 C289.5,296.0 291.1,291.1 292.5,286.0 C293.9,280.9 295.0,275.6 296.4,270.0 C297.8,264.4 299.2,258.3 300.8,252.5 C302.4,246.7 304.1,240.8 305.8,235.0 C307.5,229.2 309.3,223.6 311.2,217.5 C313.1,211.4 315.0,204.6 317.0,198.2 C319.0,191.8 321.0,184.5 323.0,178.9 C325.0,173.3 327.4,168.5 329.2,164.5 C330.9,160.5 331.9,157.6 333.5,155.0 C335.1,152.4 336.4,150.5 338.5,148.8 C340.6,147.1 343.6,145.1 345.8,144.7 C348.0,144.3 349.5,144.9 351.7,146.6 C353.9,148.2 356.4,151.0 359.1,154.6 C361.8,158.2 365.0,163.5 367.9,167.9 C370.8,172.3 374.0,176.9 376.7,181.1 C379.4,185.3 381.6,189.7 384.0,192.9 C386.4,196.1 388.9,199.0 391.4,200.2 C393.8,201.4 396.2,200.9 398.7,200.2 C401.1,199.5 403.4,198.0 406.1,195.8 C408.8,193.6 412.0,190.2 414.9,187.0 C417.8,183.8 421.0,180.6 423.7,176.7 C426.4,172.8 428.7,167.2 431.1,163.5 C433.6,159.8 435.2,157.3 438.4,154.6 C441.6,151.9 445.5,148.8 450.2,147.3 C454.9,145.8 461.3,146.3 466.3,145.8 C471.3,145.3 474.9,145.2 480.0,144.5 C485.1,143.8 491.2,142.8 496.8,141.9 C502.4,141.1 507.9,140.1 513.5,139.4 C519.1,138.7 524.7,137.9 530.3,137.8 C535.9,137.7 541.4,138.1 547.0,138.6 C552.6,139.1 558.2,140.3 563.8,141.1 C569.4,141.9 574.9,143.4 580.5,143.6 C586.1,143.8 591.7,143.1 597.3,142.3 C602.9,141.5 608.4,139.4 614.0,138.6 C619.6,137.8 625.2,137.1 630.8,137.4 C636.4,137.7 642.0,138.7 647.6,140.3 C653.2,141.9 658.7,144.2 664.3,147.0 C669.9,149.8 675.5,153.7 681.1,157.0 C686.7,160.3 693.8,164.9 697.8,167.1 C701.8,169.3 703.0,170.3 705.4,170.4 C707.8,170.5 710.0,169.6 712.1,167.9 C714.2,166.2 716.0,163.8 717.9,160.4 C719.8,157.1 722.8,149.9 723.8,147.8" fill="none" stroke="#3f54b4" stroke-width="1.15"/>
<path d="M117.2,126.4 C118.3,125.7 121.9,124.5 123.9,122.2 C125.9,119.9 127.2,114.8 129.0,112.6 C130.8,110.3 132.9,108.7 135.0,108.7 C137.1,108.7 139.6,110.5 141.4,112.6 C143.2,114.7 144.5,117.5 146.0,121.3 C147.5,125.0 149.0,130.3 150.6,135.1 C152.2,139.9 154.0,145.8 155.3,150.0 C156.6,154.2 157.2,156.7 158.2,160.0 C159.1,163.3 160.1,166.7 161.0,170.0 C161.9,173.3 163.0,176.7 163.9,180.0 C164.8,183.3 165.5,185.8 166.7,190.0 C167.9,194.2 169.7,200.1 171.2,205.2 C172.7,210.2 174.5,215.7 175.8,220.3 C177.2,224.9 178.2,229.0 179.3,232.9 C180.4,236.8 181.6,241.0 182.4,244.0 C183.2,247.0 183.4,248.0 184.3,251.0 C185.2,254.0 186.4,258.3 187.6,262.0 C188.8,265.7 190.1,269.4 191.4,273.1 C192.7,276.8 194.1,280.5 195.3,284.1 C196.5,287.8 197.4,291.4 198.6,295.0 C199.8,298.6 201.0,302.3 202.6,306.0 C204.2,309.7 206.2,313.3 208.1,317.0 C209.9,320.7 211.9,324.5 213.7,328.1 C215.5,331.7 217.2,335.4 219.0,338.5 C220.8,341.6 222.6,344.2 224.5,346.5 C226.4,348.8 227.9,350.6 230.2,352.0 C232.5,353.4 235.7,354.7 238.2,354.9 C240.7,355.1 243.0,354.3 245.2,353.3 C247.4,352.3 249.3,350.9 251.3,349.0 C253.3,347.1 255.5,344.6 257.3,341.8 C259.1,339.1 260.7,335.4 262.1,332.5 C263.6,329.6 264.7,327.3 266.0,324.5 C267.3,321.7 268.7,318.7 270.0,315.5 C271.3,312.3 272.7,309.0 274.0,305.5 C275.3,302.0 276.7,298.2 278.0,294.5 C279.3,290.8 280.6,287.1 282.0,283.0 C283.4,278.9 285.0,275.1 286.7,270.0 C288.4,264.9 290.2,258.3 292.1,252.5 C294.0,246.7 296.0,240.8 297.8,235.0 C299.6,229.2 301.2,223.3 303.1,217.5 C305.0,211.7 307.0,205.4 308.9,200.1 C310.8,194.8 312.8,190.5 314.7,185.7 C316.6,180.9 318.6,175.5 320.5,171.2 C322.4,166.8 324.4,163.1 326.3,159.6 C328.2,156.1 330.3,153.3 332.1,150.0 C333.9,146.7 334.7,143.1 337.0,139.5 C339.3,135.9 343.1,131.2 345.8,128.2 C348.5,125.2 350.8,123.2 353.2,121.6 C355.6,120.0 357.8,119.5 360.5,118.7 C363.2,117.9 366.4,117.2 369.3,116.7 C372.2,116.2 374.3,115.9 378.2,115.7 C382.1,115.5 388.4,115.5 392.9,115.3 C397.4,115.1 400.5,114.7 405.0,114.8 C409.5,114.9 415.0,115.8 420.0,115.8 C425.0,115.8 430.0,115.2 435.0,115.0 C440.0,114.8 445.0,114.5 450.0,114.6 C455.0,114.7 460.0,115.7 465.0,115.6 C470.0,115.5 475.3,114.0 480.0,114.0 C484.7,114.0 487.8,115.2 493.4,115.5 C499.0,115.8 507.4,116.1 513.5,116.0 C519.6,115.9 523.9,115.4 530.3,115.1 C536.7,114.8 547.0,114.1 552.0,114.3 C557.0,114.5 557.0,116.2 560.4,116.3 C563.8,116.4 568.9,114.8 572.2,114.8 C575.6,114.8 576.3,116.0 580.5,116.0 C584.7,116.0 592.3,115.3 597.3,115.1 C602.3,114.9 605.1,114.8 610.7,114.8 C616.3,114.8 624.6,114.7 630.8,115.0 C636.9,115.3 642.0,116.1 647.6,116.8 C653.2,117.5 658.7,118.5 664.3,119.3 C669.9,120.1 675.5,121.4 681.1,121.8 C686.7,122.2 692.8,121.7 697.8,121.5 C702.8,121.3 707.9,120.2 711.2,120.5 C714.6,120.8 715.8,122.4 717.9,123.5 C720.0,124.6 722.8,126.3 723.8,126.9" fill="none" stroke="#1e1e1e" stroke-width="1.3"/>
<defs><clipPath id="cgTR"><path d="M860.8,119.8 C861.9,120.4 865.2,121.6 867.2,123.5 C869.2,125.4 870.9,127.2 872.7,131.0 C874.5,134.8 876.4,140.2 878.2,146.0 C880.0,151.8 882.2,160.3 883.7,166.0 C885.2,171.7 885.5,175.5 887.0,180.0 C888.5,184.5 890.5,188.4 892.5,193.2 C894.5,198.0 896.9,203.6 899.1,208.7 C901.3,213.8 903.9,219.5 905.8,223.8 C907.6,228.2 908.7,231.1 910.2,234.8 C911.7,238.5 913.4,242.4 914.6,245.8 C915.8,249.2 916.4,251.2 917.6,255.0 C918.8,258.8 920.3,264.2 922.0,268.8 C923.7,273.4 926.4,279.3 927.9,282.5 C929.4,285.7 929.4,285.2 930.7,288.0 C932.0,290.8 933.9,295.3 935.6,299.0 C937.4,302.7 939.6,307.4 941.2,310.1 C942.8,312.9 943.1,312.9 945.4,315.5 C947.7,318.1 951.7,322.1 954.8,325.6 C957.9,329.1 961.1,333.6 964.2,336.5 C967.3,339.4 970.6,342.1 973.5,342.7 C976.4,343.3 978.7,341.9 981.3,340.4 C983.9,338.8 986.8,336.4 989.1,333.4 C991.5,330.4 993.3,326.6 995.4,322.4 C997.5,318.2 999.7,313.8 1001.6,308.4 C1003.5,303.0 1005.2,295.8 1007.0,290.0 C1008.8,284.2 1010.9,278.4 1012.5,273.4 C1014.1,268.4 1015.6,263.9 1016.7,260.0 C1017.9,256.1 1018.5,253.2 1019.4,250.0 C1020.3,246.8 1021.1,244.3 1022.0,241.0 C1022.9,237.7 1023.8,234.3 1025.0,230.0 C1026.2,225.7 1027.7,220.0 1029.0,215.0 C1030.3,210.0 1031.8,204.2 1032.9,200.0 C1034.1,195.8 1034.7,193.7 1035.9,189.9 C1037.1,186.1 1038.8,181.5 1040.3,177.4 C1041.8,173.3 1043.2,169.3 1044.7,165.6 C1046.2,161.9 1047.6,158.6 1049.1,155.3 C1050.6,152.0 1052.0,148.9 1053.5,145.7 C1055.0,142.5 1056.3,139.2 1057.9,136.2 C1059.5,133.1 1061.4,130.1 1063.1,127.4 C1064.8,124.7 1066.5,122.2 1068.2,120.0 C1069.9,117.8 1071.7,115.9 1073.5,114.5 C1075.3,113.1 1076.8,112.3 1079.0,111.5 C1081.2,110.7 1084.0,110.0 1086.8,109.5 C1089.6,109.0 1093.5,108.6 1096.1,108.7 C1098.7,108.8 1099.8,109.8 1102.4,110.3 C1105.0,110.8 1108.7,111.0 1111.8,111.5 C1114.9,112.0 1118.0,112.9 1121.1,113.2 C1124.2,113.5 1126.3,113.4 1130.5,113.3 C1134.7,113.2 1140.9,112.9 1146.1,112.7 C1151.3,112.5 1156.0,112.3 1161.7,112.2 C1167.4,112.1 1173.6,112.0 1180.0,112.1 C1186.4,112.1 1193.4,112.5 1200.1,112.5 C1206.8,112.5 1213.5,111.9 1220.2,112.1 C1226.9,112.3 1233.6,113.2 1240.3,113.5 C1247.0,113.8 1253.7,114.1 1260.4,114.1 C1267.1,114.1 1274.2,113.8 1280.5,113.7 C1286.8,113.6 1293.0,114.6 1298.0,113.5 C1303.0,112.4 1306.9,106.9 1310.7,107.0 C1314.5,107.1 1317.8,113.2 1321.0,114.2 C1324.2,115.2 1326.0,113.5 1330.0,113.0 C1334.0,112.5 1340.0,111.8 1345.0,111.5 C1350.0,111.2 1355.0,110.9 1360.0,111.0 C1365.0,111.1 1370.0,111.3 1375.0,112.0 C1380.0,112.7 1385.6,113.8 1390.0,115.0 C1394.4,116.2 1396.0,118.2 1401.2,119.2 C1406.4,120.2 1414.6,120.9 1421.3,121.2 C1428.0,121.5 1435.4,121.4 1441.4,121.2 C1447.4,121.0 1453.2,120.7 1457.5,120.2 C1461.8,119.7 1465.8,118.5 1467.5,118.2 L1467.5,122.2 C1465.8,122.5 1461.8,123.7 1457.5,124.2 C1453.2,124.7 1447.4,125.0 1441.4,125.2 C1435.4,125.4 1428.0,125.5 1421.3,125.2 C1414.6,124.9 1407.9,124.3 1401.2,123.2 C1394.5,122.1 1387.8,119.8 1381.1,118.7 C1374.4,117.6 1367.7,116.8 1361.0,116.5 C1354.3,116.2 1347.6,116.7 1340.9,117.1 C1334.2,117.5 1326.0,117.0 1321.0,119.0 C1316.0,121.0 1314.2,129.2 1310.7,129.0 C1307.2,128.8 1305.0,119.9 1300.0,118.0 C1295.0,116.1 1287.1,117.7 1280.5,117.7 C1273.9,117.7 1267.1,118.1 1260.4,118.1 C1253.7,118.1 1247.0,117.8 1240.3,117.5 C1233.6,117.2 1226.9,116.3 1220.2,116.1 C1213.5,115.9 1206.8,116.5 1200.1,116.5 C1193.4,116.5 1186.4,116.1 1180.0,116.1 C1173.6,116.0 1167.4,116.1 1161.7,116.2 C1156.0,116.3 1151.3,116.5 1146.1,116.7 C1140.9,116.9 1134.4,117.1 1130.5,117.3 C1126.6,117.5 1125.3,117.1 1122.7,117.8 C1120.1,118.5 1117.8,119.6 1114.9,121.2 C1112.0,122.8 1108.4,125.3 1105.5,127.5 C1102.6,129.7 1100.0,132.2 1097.7,134.5 C1095.4,136.8 1093.6,138.5 1091.5,141.5 C1089.4,144.5 1087.0,148.8 1085.2,152.4 C1083.4,156.1 1082.3,159.2 1080.5,163.4 C1078.7,167.6 1076.6,172.2 1074.3,177.4 C1072.0,182.6 1069.1,188.6 1066.5,194.6 C1063.9,200.6 1061.3,206.5 1058.7,213.3 C1056.1,220.1 1053.6,227.8 1050.9,235.2 C1048.2,242.6 1045.1,250.5 1042.6,258.0 C1040.1,265.5 1038.2,272.4 1036.0,280.3 C1033.8,288.2 1031.4,297.1 1029.1,305.1 C1026.8,313.1 1024.5,321.1 1022.2,328.5 C1019.9,335.9 1017.3,343.9 1015.3,349.2 C1013.2,354.4 1011.3,356.9 1009.9,360.0 C1008.5,363.1 1008.1,364.9 1006.9,367.8 C1005.7,370.7 1004.4,373.9 1002.7,377.3 C1001.0,380.7 998.8,384.7 996.8,388.0 C994.8,391.3 992.8,394.3 990.8,397.0 C988.8,399.7 986.8,402.2 984.8,404.2 C982.8,406.2 980.9,407.5 978.9,408.9 C976.9,410.3 974.9,411.7 972.9,412.5 C970.9,413.3 968.9,413.8 966.9,413.7 C964.9,413.6 963.1,412.5 961.0,411.9 C958.9,411.3 956.8,411.5 954.5,410.0 C952.2,408.5 949.6,405.6 947.4,402.9 C945.2,400.2 943.4,397.2 941.4,393.8 C939.4,390.4 937.1,386.6 935.3,382.7 C933.4,378.8 932.0,374.8 930.3,370.6 C928.6,366.4 926.9,362.6 925.2,357.5 C923.5,352.4 921.7,345.7 920.2,340.3 C918.7,334.9 917.5,330.2 916.1,325.2 C914.7,320.2 912.9,314.5 911.7,310.1 C910.6,305.7 910.1,302.7 909.2,299.0 C908.3,295.3 907.4,291.7 906.4,288.0 C905.4,284.3 904.1,280.7 903.1,277.0 C902.1,273.3 901.5,269.5 900.6,266.0 C899.7,262.5 898.6,258.6 897.8,256.0 C897.0,253.4 896.6,253.1 895.9,250.3 C895.2,247.5 894.4,242.9 893.7,239.2 C893.0,235.5 892.2,231.9 891.5,228.2 C890.8,224.5 890.0,220.9 889.3,217.2 C888.6,213.5 887.9,209.9 887.1,206.2 C886.4,202.5 885.5,198.8 884.8,195.1 C884.0,191.4 883.3,187.8 882.6,184.1 C881.9,180.4 881.1,176.8 880.4,173.1 C879.7,169.4 879.0,165.8 878.2,162.1 C877.4,158.4 876.7,154.9 875.5,151.0 C874.3,147.1 872.4,142.2 870.9,138.6 C869.4,135.0 868.0,131.8 866.3,129.4 C864.6,127.0 861.7,125.1 860.8,124.2 Z"/></clipPath></defs>
<path d="M860.8,119.8 C861.9,120.4 865.2,121.6 867.2,123.5 C869.2,125.4 870.9,127.2 872.7,131.0 C874.5,134.8 876.4,140.2 878.2,146.0 C880.0,151.8 882.2,160.3 883.7,166.0 C885.2,171.7 885.5,175.5 887.0,180.0 C888.5,184.5 890.5,188.4 892.5,193.2 C894.5,198.0 896.9,203.6 899.1,208.7 C901.3,213.8 903.9,219.5 905.8,223.8 C907.6,228.2 908.7,231.1 910.2,234.8 C911.7,238.5 913.4,242.4 914.6,245.8 C915.8,249.2 916.4,251.2 917.6,255.0 C918.8,258.8 920.3,264.2 922.0,268.8 C923.7,273.4 926.4,279.3 927.9,282.5 C929.4,285.7 929.4,285.2 930.7,288.0 C932.0,290.8 933.9,295.3 935.6,299.0 C937.4,302.7 939.6,307.4 941.2,310.1 C942.8,312.9 943.1,312.9 945.4,315.5 C947.7,318.1 951.7,322.1 954.8,325.6 C957.9,329.1 961.1,333.6 964.2,336.5 C967.3,339.4 970.6,342.1 973.5,342.7 C976.4,343.3 978.7,341.9 981.3,340.4 C983.9,338.8 986.8,336.4 989.1,333.4 C991.5,330.4 993.3,326.6 995.4,322.4 C997.5,318.2 999.7,313.8 1001.6,308.4 C1003.5,303.0 1005.2,295.8 1007.0,290.0 C1008.8,284.2 1010.9,278.4 1012.5,273.4 C1014.1,268.4 1015.6,263.9 1016.7,260.0 C1017.9,256.1 1018.5,253.2 1019.4,250.0 C1020.3,246.8 1021.1,244.3 1022.0,241.0 C1022.9,237.7 1023.8,234.3 1025.0,230.0 C1026.2,225.7 1027.7,220.0 1029.0,215.0 C1030.3,210.0 1031.8,204.2 1032.9,200.0 C1034.1,195.8 1034.7,193.7 1035.9,189.9 C1037.1,186.1 1038.8,181.5 1040.3,177.4 C1041.8,173.3 1043.2,169.3 1044.7,165.6 C1046.2,161.9 1047.6,158.6 1049.1,155.3 C1050.6,152.0 1052.0,148.9 1053.5,145.7 C1055.0,142.5 1056.3,139.2 1057.9,136.2 C1059.5,133.1 1061.4,130.1 1063.1,127.4 C1064.8,124.7 1066.5,122.2 1068.2,120.0 C1069.9,117.8 1071.7,115.9 1073.5,114.5 C1075.3,113.1 1076.8,112.3 1079.0,111.5 C1081.2,110.7 1084.0,110.0 1086.8,109.5 C1089.6,109.0 1093.5,108.6 1096.1,108.7 C1098.7,108.8 1099.8,109.8 1102.4,110.3 C1105.0,110.8 1108.7,111.0 1111.8,111.5 C1114.9,112.0 1118.0,112.9 1121.1,113.2 C1124.2,113.5 1126.3,113.4 1130.5,113.3 C1134.7,113.2 1140.9,112.9 1146.1,112.7 C1151.3,112.5 1156.0,112.3 1161.7,112.2 C1167.4,112.1 1173.6,112.0 1180.0,112.1 C1186.4,112.1 1193.4,112.5 1200.1,112.5 C1206.8,112.5 1213.5,111.9 1220.2,112.1 C1226.9,112.3 1233.6,113.2 1240.3,113.5 C1247.0,113.8 1253.7,114.1 1260.4,114.1 C1267.1,114.1 1274.2,113.8 1280.5,113.7 C1286.8,113.6 1293.0,114.6 1298.0,113.5 C1303.0,112.4 1306.9,106.9 1310.7,107.0 C1314.5,107.1 1317.8,113.2 1321.0,114.2 C1324.2,115.2 1326.0,113.5 1330.0,113.0 C1334.0,112.5 1340.0,111.8 1345.0,111.5 C1350.0,111.2 1355.0,110.9 1360.0,111.0 C1365.0,111.1 1370.0,111.3 1375.0,112.0 C1380.0,112.7 1385.6,113.8 1390.0,115.0 C1394.4,116.2 1396.0,118.2 1401.2,119.2 C1406.4,120.2 1414.6,120.9 1421.3,121.2 C1428.0,121.5 1435.4,121.4 1441.4,121.2 C1447.4,121.0 1453.2,120.7 1457.5,120.2 C1461.8,119.7 1465.8,118.5 1467.5,118.2 L1467.5,122.2 C1465.8,122.5 1461.8,123.7 1457.5,124.2 C1453.2,124.7 1447.4,125.0 1441.4,125.2 C1435.4,125.4 1428.0,125.5 1421.3,125.2 C1414.6,124.9 1407.9,124.3 1401.2,123.2 C1394.5,122.1 1387.8,119.8 1381.1,118.7 C1374.4,117.6 1367.7,116.8 1361.0,116.5 C1354.3,116.2 1347.6,116.7 1340.9,117.1 C1334.2,117.5 1326.0,117.0 1321.0,119.0 C1316.0,121.0 1314.2,129.2 1310.7,129.0 C1307.2,128.8 1305.0,119.9 1300.0,118.0 C1295.0,116.1 1287.1,117.7 1280.5,117.7 C1273.9,117.7 1267.1,118.1 1260.4,118.1 C1253.7,118.1 1247.0,117.8 1240.3,117.5 C1233.6,117.2 1226.9,116.3 1220.2,116.1 C1213.5,115.9 1206.8,116.5 1200.1,116.5 C1193.4,116.5 1186.4,116.1 1180.0,116.1 C1173.6,116.0 1167.4,116.1 1161.7,116.2 C1156.0,116.3 1151.3,116.5 1146.1,116.7 C1140.9,116.9 1134.4,117.1 1130.5,117.3 C1126.6,117.5 1125.3,117.1 1122.7,117.8 C1120.1,118.5 1117.8,119.6 1114.9,121.2 C1112.0,122.8 1108.4,125.3 1105.5,127.5 C1102.6,129.7 1100.0,132.2 1097.7,134.5 C1095.4,136.8 1093.6,138.5 1091.5,141.5 C1089.4,144.5 1087.0,148.8 1085.2,152.4 C1083.4,156.1 1082.3,159.2 1080.5,163.4 C1078.7,167.6 1076.6,172.2 1074.3,177.4 C1072.0,182.6 1069.1,188.6 1066.5,194.6 C1063.9,200.6 1061.3,206.5 1058.7,213.3 C1056.1,220.1 1053.6,227.8 1050.9,235.2 C1048.2,242.6 1045.1,250.5 1042.6,258.0 C1040.1,265.5 1038.2,272.4 1036.0,280.3 C1033.8,288.2 1031.4,297.1 1029.1,305.1 C1026.8,313.1 1024.5,321.1 1022.2,328.5 C1019.9,335.9 1017.3,343.9 1015.3,349.2 C1013.2,354.4 1011.3,356.9 1009.9,360.0 C1008.5,363.1 1008.1,364.9 1006.9,367.8 C1005.7,370.7 1004.4,373.9 1002.7,377.3 C1001.0,380.7 998.8,384.7 996.8,388.0 C994.8,391.3 992.8,394.3 990.8,397.0 C988.8,399.7 986.8,402.2 984.8,404.2 C982.8,406.2 980.9,407.5 978.9,408.9 C976.9,410.3 974.9,411.7 972.9,412.5 C970.9,413.3 968.9,413.8 966.9,413.7 C964.9,413.6 963.1,412.5 961.0,411.9 C958.9,411.3 956.8,411.5 954.5,410.0 C952.2,408.5 949.6,405.6 947.4,402.9 C945.2,400.2 943.4,397.2 941.4,393.8 C939.4,390.4 937.1,386.6 935.3,382.7 C933.4,378.8 932.0,374.8 930.3,370.6 C928.6,366.4 926.9,362.6 925.2,357.5 C923.5,352.4 921.7,345.7 920.2,340.3 C918.7,334.9 917.5,330.2 916.1,325.2 C914.7,320.2 912.9,314.5 911.7,310.1 C910.6,305.7 910.1,302.7 909.2,299.0 C908.3,295.3 907.4,291.7 906.4,288.0 C905.4,284.3 904.1,280.7 903.1,277.0 C902.1,273.3 901.5,269.5 900.6,266.0 C899.7,262.5 898.6,258.6 897.8,256.0 C897.0,253.4 896.6,253.1 895.9,250.3 C895.2,247.5 894.4,242.9 893.7,239.2 C893.0,235.5 892.2,231.9 891.5,228.2 C890.8,224.5 890.0,220.9 889.3,217.2 C888.6,213.5 887.9,209.9 887.1,206.2 C886.4,202.5 885.5,198.8 884.8,195.1 C884.0,191.4 883.3,187.8 882.6,184.1 C881.9,180.4 881.1,176.8 880.4,173.1 C879.7,169.4 879.0,165.8 878.2,162.1 C877.4,158.4 876.7,154.9 875.5,151.0 C874.3,147.1 872.4,142.2 870.9,138.6 C869.4,135.0 868.0,131.8 866.3,129.4 C864.6,127.0 861.7,125.1 860.8,124.2 Z" fill="#8a8b8e"/>
<path d="M860.8,149.5 C861.4,151.2 863.2,156.7 864.2,159.6 C865.2,162.5 866.0,164.2 866.9,166.9 C867.8,169.7 868.6,172.6 869.7,176.1 C870.8,179.6 872.2,183.9 873.4,188.1 C874.6,192.2 875.5,195.0 877.0,201.0 C878.5,207.0 880.9,217.9 882.6,224.1 C884.3,230.3 885.5,234.0 887.0,238.4 C888.5,242.8 889.8,247.1 891.4,250.6 C893.0,254.1 895.2,256.8 896.9,259.4 C898.5,262.0 899.5,264.0 901.3,266.0 C903.1,268.0 905.6,269.8 907.9,271.5 C910.2,273.2 913.2,274.7 915.0,276.0 C916.8,277.3 916.5,278.2 918.6,279.5 C920.7,280.8 924.4,281.9 927.8,283.5 C931.2,285.1 935.1,287.4 938.8,289.2 C942.5,291.0 946.3,293.1 949.8,294.5 C953.2,295.9 956.6,296.8 959.5,297.5 C962.4,298.2 964.7,298.8 967.0,299.0 C969.3,299.2 970.3,299.8 973.5,299.0 C976.7,298.2 982.4,296.4 986.0,294.3 C989.6,292.2 992.5,289.6 995.4,286.5 C998.3,283.4 1000.6,280.0 1003.2,275.6 C1005.8,271.2 1008.0,267.5 1011.0,260.0 C1014.0,252.5 1017.9,239.6 1021.2,230.5 C1024.5,221.4 1027.5,213.8 1030.6,205.5 C1033.7,197.2 1036.9,188.6 1040.0,180.5 C1043.1,172.4 1046.5,163.6 1049.3,157.1 C1052.1,150.6 1054.5,145.9 1057.1,141.5 C1059.7,137.1 1062.3,132.8 1064.9,130.8 C1067.5,128.8 1069.6,129.5 1072.7,129.5 C1075.8,129.5 1079.5,130.1 1083.7,130.9 C1087.9,131.7 1094.1,133.0 1097.7,134.5 C1101.3,136.0 1102.6,137.5 1105.5,140.0 C1108.4,142.5 1111.8,146.5 1114.9,149.3 C1118.0,152.2 1121.1,155.0 1124.2,157.1 C1127.3,159.2 1130.7,160.9 1133.6,161.8 C1136.5,162.7 1138.5,163.1 1141.4,162.6 C1144.3,162.1 1147.7,160.6 1150.8,158.7 C1153.9,156.8 1157.1,153.8 1160.2,150.9 C1163.3,148.0 1166.4,144.4 1169.5,141.5 C1172.6,138.6 1175.5,136.1 1178.9,133.7 C1182.3,131.3 1186.6,128.1 1190.1,127.2 C1193.6,126.3 1195.1,127.9 1200.1,128.2 C1205.1,128.5 1213.5,129.4 1220.2,129.2 C1226.9,129.0 1233.6,128.0 1240.3,127.2 C1247.0,126.4 1253.7,125.0 1260.4,124.2 C1267.1,123.4 1273.8,122.6 1280.5,122.2 C1287.2,121.8 1294.0,121.7 1300.7,121.8 C1307.4,121.9 1314.1,122.6 1320.8,122.6 C1327.5,122.6 1334.2,122.2 1340.9,121.8 C1347.6,121.4 1354.3,120.9 1361.0,120.2 C1367.7,119.5 1376.1,118.4 1381.1,117.8 C1386.1,117.2 1387.8,116.6 1391.1,116.5 C1394.4,116.4 1396.2,116.5 1401.2,117.1 C1406.2,117.7 1414.6,118.5 1421.3,120.2 C1428.0,121.9 1435.7,124.5 1441.4,127.2 C1447.1,129.9 1451.2,131.7 1455.5,136.2 C1459.8,140.7 1465.5,151.3 1467.5,154.3 L1467.5,196.6 C1466.8,193.9 1465.5,185.5 1463.5,180.5 C1461.5,175.5 1459.2,170.4 1455.5,166.4 C1451.8,162.4 1447.1,159.9 1441.4,156.4 C1435.7,152.9 1428.0,149.2 1421.3,145.3 C1414.6,141.4 1407.9,135.3 1401.2,133.2 C1394.5,131.1 1387.8,132.3 1381.1,132.6 C1374.4,132.9 1367.7,133.9 1361.0,135.2 C1354.3,136.5 1347.6,138.9 1340.9,140.3 C1334.2,141.8 1327.5,143.3 1320.8,143.9 C1314.1,144.5 1307.4,143.8 1300.7,143.9 C1294.0,144.0 1287.2,143.7 1280.5,144.3 C1273.8,144.9 1267.1,146.0 1260.4,147.3 C1253.7,148.6 1247.0,150.3 1240.3,152.3 C1233.6,154.3 1226.9,156.7 1220.2,159.4 C1213.5,162.1 1205.1,165.9 1200.1,168.4 C1195.1,170.9 1192.8,171.7 1190.1,174.5 C1187.3,177.3 1185.7,181.4 1183.6,185.0 C1181.5,188.6 1179.4,192.5 1177.3,196.2 C1175.2,199.9 1173.7,203.7 1171.1,207.1 C1168.5,210.5 1164.8,213.6 1161.7,216.4 C1158.6,219.2 1155.5,221.3 1152.4,224.2 C1149.3,227.1 1146.1,231.5 1143.0,233.6 C1139.9,235.7 1137.0,236.2 1133.6,236.7 C1130.2,237.2 1125.8,237.7 1122.7,236.7 C1119.6,235.7 1117.5,233.9 1114.9,230.5 C1112.3,227.1 1109.7,221.1 1107.1,216.4 C1104.5,211.7 1101.9,206.8 1099.3,202.4 C1096.7,198.0 1093.8,193.3 1091.5,189.9 C1089.2,186.5 1087.3,183.4 1085.2,182.1 C1083.1,180.8 1081.1,180.5 1079.0,182.1 C1076.9,183.7 1075.0,186.6 1072.7,191.5 C1070.4,196.4 1067.5,204.8 1064.9,211.8 C1062.3,218.8 1059.7,225.9 1057.1,233.6 C1054.5,241.3 1051.2,252.5 1049.5,258.0 C1047.8,263.5 1048.3,261.6 1047.0,266.5 C1045.7,271.4 1043.6,279.6 1041.5,287.2 C1039.4,294.8 1036.4,305.7 1034.6,312.0 C1032.8,318.3 1031.8,320.3 1030.5,325.0 C1029.2,329.7 1028.0,334.2 1026.5,340.0 C1025.0,345.8 1023.0,355.0 1021.8,360.0 C1020.6,365.0 1020.6,366.6 1019.4,370.1 C1018.2,373.6 1016.5,377.4 1014.7,380.9 C1012.9,384.4 1010.9,387.5 1008.7,391.0 C1006.5,394.5 1004.0,398.7 1001.5,401.8 C999.0,404.9 996.6,407.3 993.8,409.5 C991.0,411.7 987.8,413.7 984.8,414.9 C981.8,416.1 978.8,416.8 975.9,416.7 C973.0,416.6 970.0,414.9 967.6,414.0 C965.2,413.1 964.0,412.3 961.6,411.0 C959.2,409.7 956.2,407.8 953.5,406.0 C950.8,404.2 948.0,403.5 945.4,400.5 C942.8,397.5 940.2,392.2 937.6,388.0 C935.0,383.8 932.7,379.1 929.8,375.5 C926.9,371.9 924.0,369.1 920.4,366.2 C916.8,363.3 911.9,361.2 908.0,358.3 C904.1,355.4 899.6,352.1 897.0,349.0 C894.4,345.9 893.8,343.7 892.5,340.0 C891.2,336.3 890.2,331.5 889.2,327.0 C888.2,322.5 887.3,317.2 886.5,313.0 C885.7,308.8 885.0,305.8 884.3,302.0 C883.5,298.2 882.8,294.1 882.0,290.3 C881.2,286.5 880.5,282.9 879.8,279.2 C879.0,275.5 878.2,271.7 877.5,268.0 C876.8,264.3 876.2,260.9 875.4,256.8 C874.6,252.7 873.6,247.7 872.7,243.1 C871.8,238.5 870.8,233.9 869.9,229.3 C869.0,224.7 868.1,220.1 867.2,215.5 C866.3,210.9 865.5,206.3 864.4,201.7 C863.3,197.1 861.4,190.3 860.8,188.0 Z" fill="#f7ab92"/>
<path d="M860.8,149.5 C861.4,151.2 863.2,156.7 864.2,159.6 C865.2,162.5 866.0,164.2 866.9,166.9 C867.8,169.7 868.6,172.6 869.7,176.1 C870.8,179.6 872.2,183.9 873.4,188.1 C874.6,192.2 875.5,195.0 877.0,201.0 C878.5,207.0 880.9,217.9 882.6,224.1 C884.3,230.3 885.5,234.0 887.0,238.4 C888.5,242.8 889.8,247.1 891.4,250.6 C893.0,254.1 895.2,256.8 896.9,259.4 C898.5,262.0 899.5,264.0 901.3,266.0 C903.1,268.0 905.6,269.8 907.9,271.5 C910.2,273.2 913.2,274.7 915.0,276.0 C916.8,277.3 916.5,278.2 918.6,279.5 C920.7,280.8 924.4,281.9 927.8,283.5 C931.2,285.1 935.1,287.4 938.8,289.2 C942.5,291.0 946.3,293.1 949.8,294.5 C953.2,295.9 956.6,296.8 959.5,297.5 C962.4,298.2 964.7,298.8 967.0,299.0 C969.3,299.2 970.3,299.8 973.5,299.0 C976.7,298.2 982.4,296.4 986.0,294.3 C989.6,292.2 992.5,289.6 995.4,286.5 C998.3,283.4 1000.6,280.0 1003.2,275.6 C1005.8,271.2 1008.0,267.5 1011.0,260.0 C1014.0,252.5 1017.9,239.6 1021.2,230.5 C1024.5,221.4 1027.5,213.8 1030.6,205.5 C1033.7,197.2 1036.9,188.6 1040.0,180.5 C1043.1,172.4 1046.5,163.6 1049.3,157.1 C1052.1,150.6 1054.5,145.9 1057.1,141.5 C1059.7,137.1 1062.3,132.8 1064.9,130.8 C1067.5,128.8 1069.6,129.5 1072.7,129.5 C1075.8,129.5 1079.5,130.1 1083.7,130.9 C1087.9,131.7 1094.1,133.0 1097.7,134.5 C1101.3,136.0 1102.6,137.5 1105.5,140.0 C1108.4,142.5 1111.8,146.5 1114.9,149.3 C1118.0,152.2 1121.1,155.0 1124.2,157.1 C1127.3,159.2 1130.7,160.9 1133.6,161.8 C1136.5,162.7 1138.5,163.1 1141.4,162.6 C1144.3,162.1 1147.7,160.6 1150.8,158.7 C1153.9,156.8 1157.1,153.8 1160.2,150.9 C1163.3,148.0 1166.4,144.4 1169.5,141.5 C1172.6,138.6 1175.5,136.1 1178.9,133.7 C1182.3,131.3 1186.6,128.1 1190.1,127.2 C1193.6,126.3 1195.1,127.9 1200.1,128.2 C1205.1,128.5 1213.5,129.4 1220.2,129.2 C1226.9,129.0 1233.6,128.0 1240.3,127.2 C1247.0,126.4 1253.7,125.0 1260.4,124.2 C1267.1,123.4 1273.8,122.6 1280.5,122.2 C1287.2,121.8 1294.0,121.7 1300.7,121.8 C1307.4,121.9 1314.1,122.6 1320.8,122.6 C1327.5,122.6 1334.2,122.2 1340.9,121.8 C1347.6,121.4 1354.3,120.9 1361.0,120.2 C1367.7,119.5 1376.1,118.4 1381.1,117.8 C1386.1,117.2 1387.8,116.6 1391.1,116.5 C1394.4,116.4 1396.2,116.5 1401.2,117.1 C1406.2,117.7 1414.6,118.5 1421.3,120.2 C1428.0,121.9 1435.7,124.5 1441.4,127.2 C1447.1,129.9 1451.2,131.7 1455.5,136.2 C1459.8,140.7 1465.5,151.3 1467.5,154.3 L1467.5,196.6 C1466.8,193.9 1465.5,185.5 1463.5,180.5 C1461.5,175.5 1459.2,170.4 1455.5,166.4 C1451.8,162.4 1447.1,159.9 1441.4,156.4 C1435.7,152.9 1428.0,149.2 1421.3,145.3 C1414.6,141.4 1407.9,135.3 1401.2,133.2 C1394.5,131.1 1387.8,132.3 1381.1,132.6 C1374.4,132.9 1367.7,133.9 1361.0,135.2 C1354.3,136.5 1347.6,138.9 1340.9,140.3 C1334.2,141.8 1327.5,143.3 1320.8,143.9 C1314.1,144.5 1307.4,143.8 1300.7,143.9 C1294.0,144.0 1287.2,143.7 1280.5,144.3 C1273.8,144.9 1267.1,146.0 1260.4,147.3 C1253.7,148.6 1247.0,150.3 1240.3,152.3 C1233.6,154.3 1226.9,156.7 1220.2,159.4 C1213.5,162.1 1205.1,165.9 1200.1,168.4 C1195.1,170.9 1192.8,171.7 1190.1,174.5 C1187.3,177.3 1185.7,181.4 1183.6,185.0 C1181.5,188.6 1179.4,192.5 1177.3,196.2 C1175.2,199.9 1173.7,203.7 1171.1,207.1 C1168.5,210.5 1164.8,213.6 1161.7,216.4 C1158.6,219.2 1155.5,221.3 1152.4,224.2 C1149.3,227.1 1146.1,231.5 1143.0,233.6 C1139.9,235.7 1137.0,236.2 1133.6,236.7 C1130.2,237.2 1125.8,237.7 1122.7,236.7 C1119.6,235.7 1117.5,233.9 1114.9,230.5 C1112.3,227.1 1109.7,221.1 1107.1,216.4 C1104.5,211.7 1101.9,206.8 1099.3,202.4 C1096.7,198.0 1093.8,193.3 1091.5,189.9 C1089.2,186.5 1087.3,183.4 1085.2,182.1 C1083.1,180.8 1081.1,180.5 1079.0,182.1 C1076.9,183.7 1075.0,186.6 1072.7,191.5 C1070.4,196.4 1067.5,204.8 1064.9,211.8 C1062.3,218.8 1059.7,225.9 1057.1,233.6 C1054.5,241.3 1051.2,252.5 1049.5,258.0 C1047.8,263.5 1048.3,261.6 1047.0,266.5 C1045.7,271.4 1043.6,279.6 1041.5,287.2 C1039.4,294.8 1036.4,305.7 1034.6,312.0 C1032.8,318.3 1031.8,320.3 1030.5,325.0 C1029.2,329.7 1028.0,334.2 1026.5,340.0 C1025.0,345.8 1023.0,355.0 1021.8,360.0 C1020.6,365.0 1020.6,366.6 1019.4,370.1 C1018.2,373.6 1016.5,377.4 1014.7,380.9 C1012.9,384.4 1010.9,387.5 1008.7,391.0 C1006.5,394.5 1004.0,398.7 1001.5,401.8 C999.0,404.9 996.6,407.3 993.8,409.5 C991.0,411.7 987.8,413.7 984.8,414.9 C981.8,416.1 978.8,416.8 975.9,416.7 C973.0,416.6 970.0,414.9 967.6,414.0 C965.2,413.1 964.0,412.3 961.6,411.0 C959.2,409.7 956.2,407.8 953.5,406.0 C950.8,404.2 948.0,403.5 945.4,400.5 C942.8,397.5 940.2,392.2 937.6,388.0 C935.0,383.8 932.7,379.1 929.8,375.5 C926.9,371.9 924.0,369.1 920.4,366.2 C916.8,363.3 911.9,361.2 908.0,358.3 C904.1,355.4 899.6,352.1 897.0,349.0 C894.4,345.9 893.8,343.7 892.5,340.0 C891.2,336.3 890.2,331.5 889.2,327.0 C888.2,322.5 887.3,317.2 886.5,313.0 C885.7,308.8 885.0,305.8 884.3,302.0 C883.5,298.2 882.8,294.1 882.0,290.3 C881.2,286.5 880.5,282.9 879.8,279.2 C879.0,275.5 878.2,271.7 877.5,268.0 C876.8,264.3 876.2,260.9 875.4,256.8 C874.6,252.7 873.6,247.7 872.7,243.1 C871.8,238.5 870.8,233.9 869.9,229.3 C869.0,224.7 868.1,220.1 867.2,215.5 C866.3,210.9 865.5,206.3 864.4,201.7 C863.3,197.1 861.4,190.3 860.8,188.0 Z" fill="#897975" clip-path="url(#cgTR)"/>
<path d="M860.8,119.4 H1467.7" stroke="#2c2c2c" stroke-width="1.35"/>
<path d="M860.8,167.5 C861.4,170.2 863.3,178.8 864.4,183.4 C865.5,188.0 866.3,191.5 867.2,195.3 C868.1,199.1 869.0,202.6 869.9,206.3 C870.8,210.0 871.8,213.6 872.7,217.3 C873.6,221.0 874.5,224.7 875.4,228.4 C876.3,232.1 877.4,235.7 878.2,239.4 C879.1,243.1 879.7,246.1 880.5,250.4 C881.3,254.7 881.8,260.1 882.8,265.0 C883.8,269.9 885.3,275.2 886.6,279.8 C887.9,284.4 889.2,289.0 890.5,292.5 C891.8,296.0 892.8,298.2 894.3,300.7 C895.8,303.2 897.1,304.9 899.3,307.3 C901.5,309.7 905.3,313.0 907.5,315.0 C909.7,317.0 909.7,317.3 912.6,319.3 C915.5,321.3 921.2,324.2 925.1,327.1 C929.0,330.0 932.5,333.4 936.1,336.5 C939.8,339.6 943.4,343.0 947.0,345.9 C950.6,348.8 954.0,351.8 957.9,353.7 C961.8,355.6 966.8,357.1 970.4,357.6 C974.0,358.1 976.7,357.7 979.8,356.8 C982.9,355.9 986.0,354.5 989.1,352.1 C992.2,349.8 995.6,346.4 998.5,342.7 C1001.4,339.0 1003.7,334.9 1006.3,330.2 C1008.9,325.5 1011.5,320.3 1014.1,314.6 C1016.7,308.9 1019.3,302.7 1021.9,295.9 C1024.5,289.1 1027.7,280.0 1029.7,274.0 C1031.7,268.0 1031.7,266.5 1033.7,260.0 C1035.7,253.5 1039.5,242.4 1041.5,235.2 C1043.5,227.9 1044.5,222.4 1046.0,216.5 C1047.5,210.6 1049.1,205.1 1050.6,200.0 C1052.1,194.9 1053.5,190.2 1055.0,186.2 C1056.5,182.2 1057.9,178.8 1059.4,175.9 C1060.9,173.0 1062.3,170.7 1063.8,168.5 C1065.3,166.3 1066.7,164.3 1068.2,162.6 C1069.7,160.9 1070.9,159.3 1072.6,158.2 C1074.3,157.1 1076.5,156.2 1078.5,156.0 C1080.5,155.8 1082.5,156.1 1084.4,156.8 C1086.3,157.5 1088.0,158.5 1090.0,160.4 C1092.0,162.3 1093.5,164.9 1096.1,168.0 C1098.7,171.1 1102.4,175.1 1105.5,179.0 C1108.6,182.9 1111.8,188.4 1114.9,191.5 C1118.0,194.6 1120.8,196.4 1124.2,197.7 C1127.6,199.0 1131.8,199.6 1135.2,199.3 C1138.6,199.1 1141.4,198.0 1144.5,196.2 C1147.6,194.4 1150.5,191.2 1153.9,188.3 C1157.3,185.4 1161.4,182.4 1164.8,179.0 C1168.2,175.6 1171.7,170.8 1174.2,168.0 C1176.7,165.2 1177.3,165.3 1180.0,162.4 C1182.7,159.5 1185.1,153.0 1190.1,150.3 C1195.1,147.6 1201.8,148.0 1210.2,146.3 C1218.6,144.6 1231.9,142.1 1240.3,140.3 C1248.7,138.6 1253.7,137.1 1260.4,135.8 C1267.1,134.5 1273.8,133.2 1280.5,132.6 C1287.2,132.0 1294.0,132.1 1300.7,132.2 C1307.4,132.3 1314.1,133.5 1320.8,133.2 C1327.5,132.9 1334.2,131.3 1340.9,130.2 C1347.6,129.1 1354.3,127.5 1361.0,126.6 C1367.7,125.7 1375.4,124.9 1381.1,124.6 C1386.8,124.3 1390.8,124.2 1395.2,124.6 C1399.6,125.0 1402.9,125.4 1407.2,127.2 C1411.5,129.0 1415.6,132.5 1421.3,135.2 C1427.0,137.9 1436.4,141.1 1441.4,143.3 C1446.4,145.5 1448.2,145.5 1451.5,148.3 C1454.8,151.2 1458.8,155.9 1461.5,160.4 C1464.2,164.9 1466.5,173.0 1467.5,175.5" fill="none" stroke="#e0262a" stroke-width="1.15"/>
<path d="M860.8,122.0 C861.5,122.6 863.8,124.0 865.3,125.7 C866.8,127.4 868.5,129.7 869.9,132.1 C871.3,134.5 872.4,136.9 873.6,140.4 C874.8,143.9 876.1,148.7 877.3,153.3 C878.5,157.9 879.9,163.4 881.0,168.0 C882.1,172.6 882.8,175.9 884.0,180.8 C885.2,185.7 886.8,191.2 888.4,197.3 C890.0,203.4 891.8,210.8 893.6,217.5 C895.4,224.2 897.2,231.4 899.0,237.7 C900.8,243.9 902.7,250.3 904.2,255.0 C905.7,259.7 906.7,262.4 908.0,266.0 C909.3,269.6 910.7,273.6 911.9,276.8 C913.1,280.1 914.0,282.5 915.0,285.5 C916.0,288.5 917.1,291.9 918.1,294.7 C919.1,297.4 919.9,299.4 920.8,302.0 C921.6,304.6 922.0,306.1 923.2,310.0 C924.4,313.9 926.4,320.1 928.2,325.2 C930.1,330.2 932.1,335.8 934.3,340.3 C936.5,344.8 938.9,348.5 941.4,352.4 C943.9,356.3 946.5,360.1 949.4,363.5 C952.2,366.9 956.1,370.4 958.5,372.6 C960.9,374.8 962.1,375.5 964.0,376.5 C965.9,377.5 967.9,378.4 969.9,378.5 C971.9,378.6 973.6,378.4 975.9,377.3 C978.2,376.2 981.3,374.0 983.6,371.9 C985.9,369.8 987.7,367.2 989.6,364.8 C991.5,362.4 993.2,360.6 995.0,357.5 C996.8,354.4 998.4,350.5 1000.2,346.4 C1002.0,342.2 1003.7,337.7 1005.7,332.6 C1007.8,327.6 1010.2,321.8 1012.5,316.1 C1014.8,310.4 1017.1,304.6 1019.4,298.2 C1021.7,291.8 1024.2,284.4 1026.3,277.5 C1028.4,270.6 1030.0,263.6 1031.8,256.9 C1033.5,250.1 1034.7,244.5 1036.8,237.0 C1038.9,229.5 1042.0,219.7 1044.6,211.8 C1047.2,204.0 1049.8,197.2 1052.4,189.9 C1055.0,182.6 1057.6,174.4 1060.2,168.0 C1062.8,161.6 1065.9,155.7 1068.2,151.6 C1070.5,147.5 1071.9,146.3 1074.1,143.5 C1076.3,140.7 1078.8,137.6 1081.5,134.7 C1084.2,131.8 1088.0,127.9 1090.3,125.9 C1092.5,124.0 1093.5,123.8 1095.0,123.0 C1096.5,122.2 1097.3,121.9 1099.3,121.2 C1101.3,120.5 1104.5,119.6 1107.1,118.9 C1109.7,118.2 1111.0,117.4 1114.9,116.8 C1118.8,116.2 1125.3,115.6 1130.5,115.3 C1135.7,115.0 1140.9,114.9 1146.1,114.7 C1151.3,114.5 1156.0,114.3 1161.7,114.2 C1167.4,114.1 1173.6,114.0 1180.0,114.1 C1186.4,114.1 1193.4,114.5 1200.1,114.5 C1206.8,114.5 1213.5,113.9 1220.2,114.1 C1226.9,114.3 1233.6,115.2 1240.3,115.5 C1247.0,115.8 1253.7,116.1 1260.4,116.1 C1267.1,116.1 1273.8,115.8 1280.5,115.7 C1287.2,115.6 1295.7,115.4 1300.7,115.7 C1305.7,116.0 1307.4,117.3 1310.7,117.5 C1314.0,117.7 1315.8,117.1 1320.8,116.7 C1325.8,116.3 1334.2,115.5 1340.9,115.1 C1347.6,114.7 1354.3,114.2 1361.0,114.5 C1367.7,114.8 1374.4,115.6 1381.1,116.7 C1387.8,117.8 1394.5,120.1 1401.2,121.2 C1407.9,122.3 1414.6,122.9 1421.3,123.2 C1428.0,123.5 1435.4,123.4 1441.4,123.2 C1447.4,123.0 1453.2,122.7 1457.5,122.2 C1461.8,121.7 1465.8,120.5 1467.5,120.2" fill="none" stroke="#1e1e1e" stroke-width="1.3"/>
<defs><clipPath id="cgBL"><path d="M116.9,752.4 C118.1,752.7 121.4,753.5 124.0,754.0 C126.6,754.5 129.6,755.3 132.3,755.1 C135.0,754.9 137.5,754.0 140.0,752.9 C142.5,751.8 145.2,748.7 147.3,748.3 C149.5,747.9 151.1,748.5 152.9,750.6 C154.8,752.7 156.6,756.9 158.4,760.6 C160.2,764.3 162.4,769.5 163.9,773.0 C165.4,776.5 166.4,778.5 167.6,781.3 C168.8,784.1 169.7,787.3 171.2,789.6 C172.7,791.9 174.5,793.8 176.7,795.1 C178.8,796.4 181.6,797.4 184.1,797.4 C186.6,797.4 188.9,796.1 191.4,795.1 C193.9,794.1 196.4,792.6 198.8,791.4 C201.2,790.2 203.7,789.5 206.1,787.7 C208.5,785.9 211.3,783.3 213.5,780.4 C215.7,777.5 217.3,773.5 219.0,770.3 C220.7,767.1 222.4,763.6 223.6,761.1 C224.8,758.6 225.4,757.3 226.3,755.0 C227.2,752.7 228.2,750.6 229.3,747.5 C230.5,744.4 231.4,740.7 233.2,736.5 C234.9,732.3 237.6,727.6 239.8,722.5 C242.0,717.4 244.2,711.8 246.4,706.0 C248.6,700.2 250.8,693.3 253.0,687.8 C255.2,682.3 257.4,677.3 259.6,672.9 C261.8,668.5 264.0,664.6 266.2,661.3 C268.4,658.0 270.6,655.2 272.8,653.1 C275.0,651.0 277.2,649.9 279.4,648.9 C281.6,647.9 283.8,647.2 286.0,647.3 C288.2,647.4 290.4,648.0 292.6,649.5 C294.8,651.0 296.7,653.3 299.0,656.0 C301.3,658.7 304.1,662.4 306.3,665.8 C308.5,669.2 310.2,672.8 312.2,676.6 C314.2,680.4 316.2,684.5 318.2,688.5 C320.2,692.5 322.2,696.6 324.2,700.4 C326.2,704.2 328.1,707.8 330.1,711.2 C332.1,714.6 334.1,717.7 336.1,720.7 C338.1,723.7 339.9,726.3 342.1,729.1 C344.3,731.9 346.8,734.8 349.2,737.4 C351.6,740.0 354.6,743.0 356.4,744.6 C358.2,746.2 358.4,746.0 360.0,747.0 C361.6,748.0 362.1,749.8 366.0,750.8 C369.9,751.8 378.3,752.9 383.7,753.2 C389.1,753.5 391.1,752.5 398.5,752.4 C405.9,752.3 419.4,752.5 428.0,752.4 C436.6,752.3 442.7,752.0 450.1,752.0 C457.5,752.0 466.1,752.3 472.2,752.4 C478.3,752.5 482.0,752.2 486.9,752.4 C491.8,752.6 494.5,753.3 501.7,753.5 C508.9,753.7 520.3,753.7 530.0,753.7 C539.7,753.7 548.3,753.5 560.0,753.5 C571.7,753.5 586.7,753.7 600.0,753.7 C613.3,753.7 626.7,753.5 640.0,753.5 C653.3,753.5 670.0,753.7 680.0,753.7 C690.0,753.7 694.2,753.7 700.0,753.7 C705.8,753.7 711.1,753.7 715.0,753.5 C718.9,753.3 722.0,752.7 723.4,752.5 L723.4,755.1 C722.0,755.3 718.9,755.9 715.0,756.1 C711.1,756.3 705.8,756.3 700.0,756.3 C694.2,756.3 690.0,756.3 680.0,756.3 C670.0,756.3 653.3,756.1 640.0,756.1 C626.7,756.1 613.3,756.3 600.0,756.3 C586.7,756.3 571.7,756.1 560.0,756.1 C548.3,756.1 539.7,756.3 530.0,756.3 C520.3,756.3 508.9,756.3 501.7,756.1 C494.5,755.9 491.8,755.2 486.9,755.0 C482.0,754.8 478.3,755.1 472.2,755.0 C466.1,754.9 457.5,754.6 450.1,754.6 C442.7,754.6 436.6,754.9 428.0,755.0 C419.4,755.1 405.9,754.9 398.5,755.0 C391.1,755.1 388.1,755.5 383.7,755.8 C379.3,756.0 375.8,756.3 371.9,756.5 C367.9,756.7 363.4,756.9 360.0,757.0 C356.6,757.1 354.4,757.5 351.6,757.2 C348.8,756.9 346.1,756.4 343.3,755.3 C340.5,754.2 337.5,752.6 334.9,750.6 C332.3,748.6 330.1,746.4 327.7,743.4 C325.3,740.4 322.8,736.5 320.6,732.7 C318.4,728.9 316.4,724.5 314.6,720.7 C312.8,716.9 311.4,713.4 309.8,710.0 C308.2,706.6 306.9,703.6 305.1,700.4 C303.3,697.2 301.1,693.9 299.1,690.9 C297.1,687.9 295.2,684.6 293.1,682.5 C291.0,680.4 288.6,677.8 286.3,678.0 C284.0,678.2 281.6,681.0 279.4,684.0 C277.1,687.0 275.3,690.7 272.8,696.0 C270.3,701.3 267.2,709.3 264.5,715.9 C261.8,722.5 257.9,731.5 256.3,735.7 C254.7,739.9 255.6,738.5 255.0,741.0 C254.4,743.5 253.4,748.0 252.5,750.9 C251.6,753.8 250.7,755.9 249.7,758.6 C248.7,761.3 247.6,763.9 246.4,767.0 C245.2,770.1 243.6,774.5 242.5,777.0 C241.4,779.5 241.2,779.5 240.0,782.0 C238.8,784.5 237.0,788.9 235.5,792.0 C234.0,795.1 232.4,798.1 230.9,800.6 C229.4,803.1 227.7,805.5 226.3,807.0 C224.9,808.5 224.0,808.9 222.6,809.8 C221.2,810.7 220.2,811.8 218.1,812.5 C216.0,813.2 212.4,813.6 209.8,813.9 C207.2,814.2 204.7,813.7 202.4,814.4 C200.1,815.1 198.1,816.4 196.0,818.1 C193.9,819.8 191.7,822.4 189.6,824.5 C187.5,826.6 185.2,829.4 183.2,830.9 C181.2,832.4 179.6,833.6 177.6,833.7 C175.6,833.9 173.2,832.9 171.2,831.8 C169.2,830.7 167.2,829.8 165.7,827.2 C164.2,824.6 163.4,820.3 162.0,816.2 C160.6,812.1 159.1,807.0 157.4,802.4 C155.7,797.8 153.7,793.1 151.9,788.7 C150.1,784.3 148.4,779.5 146.4,775.8 C144.4,772.1 141.9,768.5 140.0,766.6 C138.1,764.7 137.2,765.3 135.0,764.2 C132.8,763.1 129.8,761.2 126.8,759.8 C123.8,758.4 118.6,756.5 116.9,755.9 Z"/></clipPath></defs>
<path d="M116.9,752.4 C118.1,752.7 121.4,753.5 124.0,754.0 C126.6,754.5 129.6,755.3 132.3,755.1 C135.0,754.9 137.5,754.0 140.0,752.9 C142.5,751.8 145.2,748.7 147.3,748.3 C149.5,747.9 151.1,748.5 152.9,750.6 C154.8,752.7 156.6,756.9 158.4,760.6 C160.2,764.3 162.4,769.5 163.9,773.0 C165.4,776.5 166.4,778.5 167.6,781.3 C168.8,784.1 169.7,787.3 171.2,789.6 C172.7,791.9 174.5,793.8 176.7,795.1 C178.8,796.4 181.6,797.4 184.1,797.4 C186.6,797.4 188.9,796.1 191.4,795.1 C193.9,794.1 196.4,792.6 198.8,791.4 C201.2,790.2 203.7,789.5 206.1,787.7 C208.5,785.9 211.3,783.3 213.5,780.4 C215.7,777.5 217.3,773.5 219.0,770.3 C220.7,767.1 222.4,763.6 223.6,761.1 C224.8,758.6 225.4,757.3 226.3,755.0 C227.2,752.7 228.2,750.6 229.3,747.5 C230.5,744.4 231.4,740.7 233.2,736.5 C234.9,732.3 237.6,727.6 239.8,722.5 C242.0,717.4 244.2,711.8 246.4,706.0 C248.6,700.2 250.8,693.3 253.0,687.8 C255.2,682.3 257.4,677.3 259.6,672.9 C261.8,668.5 264.0,664.6 266.2,661.3 C268.4,658.0 270.6,655.2 272.8,653.1 C275.0,651.0 277.2,649.9 279.4,648.9 C281.6,647.9 283.8,647.2 286.0,647.3 C288.2,647.4 290.4,648.0 292.6,649.5 C294.8,651.0 296.7,653.3 299.0,656.0 C301.3,658.7 304.1,662.4 306.3,665.8 C308.5,669.2 310.2,672.8 312.2,676.6 C314.2,680.4 316.2,684.5 318.2,688.5 C320.2,692.5 322.2,696.6 324.2,700.4 C326.2,704.2 328.1,707.8 330.1,711.2 C332.1,714.6 334.1,717.7 336.1,720.7 C338.1,723.7 339.9,726.3 342.1,729.1 C344.3,731.9 346.8,734.8 349.2,737.4 C351.6,740.0 354.6,743.0 356.4,744.6 C358.2,746.2 358.4,746.0 360.0,747.0 C361.6,748.0 362.1,749.8 366.0,750.8 C369.9,751.8 378.3,752.9 383.7,753.2 C389.1,753.5 391.1,752.5 398.5,752.4 C405.9,752.3 419.4,752.5 428.0,752.4 C436.6,752.3 442.7,752.0 450.1,752.0 C457.5,752.0 466.1,752.3 472.2,752.4 C478.3,752.5 482.0,752.2 486.9,752.4 C491.8,752.6 494.5,753.3 501.7,753.5 C508.9,753.7 520.3,753.7 530.0,753.7 C539.7,753.7 548.3,753.5 560.0,753.5 C571.7,753.5 586.7,753.7 600.0,753.7 C613.3,753.7 626.7,753.5 640.0,753.5 C653.3,753.5 670.0,753.7 680.0,753.7 C690.0,753.7 694.2,753.7 700.0,753.7 C705.8,753.7 711.1,753.7 715.0,753.5 C718.9,753.3 722.0,752.7 723.4,752.5 L723.4,755.1 C722.0,755.3 718.9,755.9 715.0,756.1 C711.1,756.3 705.8,756.3 700.0,756.3 C694.2,756.3 690.0,756.3 680.0,756.3 C670.0,756.3 653.3,756.1 640.0,756.1 C626.7,756.1 613.3,756.3 600.0,756.3 C586.7,756.3 571.7,756.1 560.0,756.1 C548.3,756.1 539.7,756.3 530.0,756.3 C520.3,756.3 508.9,756.3 501.7,756.1 C494.5,755.9 491.8,755.2 486.9,755.0 C482.0,754.8 478.3,755.1 472.2,755.0 C466.1,754.9 457.5,754.6 450.1,754.6 C442.7,754.6 436.6,754.9 428.0,755.0 C419.4,755.1 405.9,754.9 398.5,755.0 C391.1,755.1 388.1,755.5 383.7,755.8 C379.3,756.0 375.8,756.3 371.9,756.5 C367.9,756.7 363.4,756.9 360.0,757.0 C356.6,757.1 354.4,757.5 351.6,757.2 C348.8,756.9 346.1,756.4 343.3,755.3 C340.5,754.2 337.5,752.6 334.9,750.6 C332.3,748.6 330.1,746.4 327.7,743.4 C325.3,740.4 322.8,736.5 320.6,732.7 C318.4,728.9 316.4,724.5 314.6,720.7 C312.8,716.9 311.4,713.4 309.8,710.0 C308.2,706.6 306.9,703.6 305.1,700.4 C303.3,697.2 301.1,693.9 299.1,690.9 C297.1,687.9 295.2,684.6 293.1,682.5 C291.0,680.4 288.6,677.8 286.3,678.0 C284.0,678.2 281.6,681.0 279.4,684.0 C277.1,687.0 275.3,690.7 272.8,696.0 C270.3,701.3 267.2,709.3 264.5,715.9 C261.8,722.5 257.9,731.5 256.3,735.7 C254.7,739.9 255.6,738.5 255.0,741.0 C254.4,743.5 253.4,748.0 252.5,750.9 C251.6,753.8 250.7,755.9 249.7,758.6 C248.7,761.3 247.6,763.9 246.4,767.0 C245.2,770.1 243.6,774.5 242.5,777.0 C241.4,779.5 241.2,779.5 240.0,782.0 C238.8,784.5 237.0,788.9 235.5,792.0 C234.0,795.1 232.4,798.1 230.9,800.6 C229.4,803.1 227.7,805.5 226.3,807.0 C224.9,808.5 224.0,808.9 222.6,809.8 C221.2,810.7 220.2,811.8 218.1,812.5 C216.0,813.2 212.4,813.6 209.8,813.9 C207.2,814.2 204.7,813.7 202.4,814.4 C200.1,815.1 198.1,816.4 196.0,818.1 C193.9,819.8 191.7,822.4 189.6,824.5 C187.5,826.6 185.2,829.4 183.2,830.9 C181.2,832.4 179.6,833.6 177.6,833.7 C175.6,833.9 173.2,832.9 171.2,831.8 C169.2,830.7 167.2,829.8 165.7,827.2 C164.2,824.6 163.4,820.3 162.0,816.2 C160.6,812.1 159.1,807.0 157.4,802.4 C155.7,797.8 153.7,793.1 151.9,788.7 C150.1,784.3 148.4,779.5 146.4,775.8 C144.4,772.1 141.9,768.5 140.0,766.6 C138.1,764.7 137.2,765.3 135.0,764.2 C132.8,763.1 129.8,761.2 126.8,759.8 C123.8,758.4 118.6,756.5 116.9,755.9 Z" fill="#8a8b8e"/>
<path d="M116.9,743.2 C117.8,743.4 120.5,743.3 122.4,744.6 C124.3,745.9 126.5,749.3 128.4,750.9 C130.3,752.5 132.0,753.3 133.9,754.2 C135.8,755.1 137.8,755.8 140.0,756.5 C142.2,757.2 145.0,757.2 147.3,758.4 C149.6,759.6 151.7,761.1 153.8,763.9 C156.0,766.6 158.2,771.7 160.2,774.9 C162.2,778.1 164.0,780.9 165.7,783.2 C167.4,785.6 168.2,788.0 170.3,789.0 C172.5,790.0 175.7,789.9 178.6,789.1 C181.5,788.3 184.6,785.4 187.7,784.1 C190.8,782.8 194.1,782.1 196.9,781.3 C199.7,780.5 201.9,780.6 204.3,779.5 C206.8,778.4 209.5,776.6 211.6,774.9 C213.7,773.2 215.6,771.1 217.1,769.4 C218.6,767.7 219.7,766.3 220.8,764.8 C222.0,763.3 223.0,762.1 224.0,760.5 C225.0,758.9 225.8,757.2 226.8,755.0 C227.8,752.8 228.7,750.6 229.8,747.5 C231.0,744.4 231.9,740.7 233.7,736.5 C235.4,732.3 238.1,727.6 240.3,722.5 C242.5,717.4 245.1,711.8 246.9,706.0 C248.7,700.2 249.7,694.6 251.3,688.0 C252.9,681.4 254.4,672.9 256.3,666.3 C258.2,659.6 260.4,653.6 262.9,648.1 C265.4,642.6 268.4,636.9 271.2,633.2 C273.9,629.5 276.6,627.6 279.4,625.8 C282.1,624.0 284.9,623.2 287.7,622.5 C290.5,621.8 293.5,621.0 296.0,621.7 C298.5,622.4 300.9,625.2 302.6,626.6 C304.3,628.0 304.7,627.8 306.3,630.0 C307.9,632.2 310.2,635.6 312.2,639.6 C314.2,643.6 316.4,649.1 318.2,653.9 C320.0,658.7 321.3,663.4 322.9,668.2 C324.6,673.0 326.4,677.7 328.3,682.5 C330.2,687.3 332.3,692.0 334.3,696.8 C336.3,701.6 338.2,706.8 340.3,711.2 C342.4,715.6 344.8,719.9 347.1,723.1 C349.4,726.3 351.9,728.7 354.0,730.3 C356.1,731.9 358.2,731.8 360.0,732.7 C361.8,733.7 362.6,734.7 364.6,736.0 C366.6,737.3 369.4,738.5 371.9,740.5 C374.3,742.5 376.8,745.1 379.3,747.8 C381.8,750.5 384.0,753.9 386.7,756.7 C389.4,759.5 392.3,763.7 395.5,764.8 C398.7,765.9 401.6,763.8 405.8,763.3 C410.0,762.8 415.7,762.4 420.6,761.8 C425.5,761.2 430.4,760.4 435.3,759.6 C440.2,758.8 445.2,757.4 450.1,757.0 C455.0,756.6 459.9,757.2 464.8,757.4 C469.7,757.6 474.7,758.1 479.6,758.1 C484.5,758.1 489.4,757.6 494.3,757.4 C499.2,757.2 503.2,757.0 509.1,756.7 C515.1,756.5 521.1,755.8 530.0,755.9 C538.9,756.0 549.8,757.4 562.2,757.3 C574.6,757.2 592.7,755.8 604.4,755.2 C616.1,754.6 624.4,754.1 632.6,753.8 C640.8,753.5 647.8,753.1 653.7,753.2 C659.6,753.3 663.1,753.8 667.8,754.5 C672.5,755.2 677.0,756.7 681.9,757.3 C686.8,757.9 693.3,758.0 697.3,758.0 C701.3,758.0 703.0,758.2 705.8,757.3 C708.6,756.4 711.3,754.5 714.2,752.4 C717.1,750.3 721.9,745.9 723.4,744.6 L723.4,752.4 C721.9,753.1 717.1,754.0 714.2,756.6 C711.3,759.2 708.4,765.7 705.8,767.9 C703.2,770.1 701.5,770.2 698.7,770.0 C695.9,769.8 692.9,768.2 688.9,766.4 C684.9,764.6 679.5,761.1 674.8,759.4 C670.1,757.6 667.7,756.6 660.7,755.9 C653.7,755.2 639.6,755.1 632.6,755.2 C625.6,755.3 625.5,755.8 618.5,756.6 C611.5,757.4 599.8,759.2 590.4,760.1 C581.0,761.0 573.9,761.9 562.2,762.2 C550.5,762.5 528.9,762.2 520.0,762.0 C511.1,761.8 513.4,760.8 509.1,761.1 C504.8,761.4 499.2,762.9 494.3,764.0 C489.4,765.1 484.3,766.6 479.6,767.7 C474.9,768.8 471.0,770.2 466.3,770.7 C461.6,771.2 456.3,770.7 451.6,770.7 C446.9,770.7 442.2,769.9 438.3,770.7 C434.4,771.6 431.7,773.5 428.0,775.8 C424.3,778.1 419.9,782.2 416.2,784.7 C412.5,787.2 409.2,790.0 405.8,790.6 C402.4,791.2 399.2,789.4 395.5,788.4 C391.8,787.4 387.4,786.6 383.7,784.7 C380.0,782.9 376.6,779.8 373.4,777.3 C370.2,774.8 367.8,772.6 364.6,769.9 C361.4,767.2 357.2,762.9 354.2,761.1 C351.2,759.3 349.6,760.0 346.8,758.9 C344.0,757.8 340.1,756.2 337.3,754.2 C334.5,752.2 332.3,749.8 330.1,747.0 C327.9,744.2 326.2,741.0 324.2,737.4 C322.2,733.8 320.0,729.5 318.2,725.5 C316.4,721.5 314.8,718.5 313.4,713.6 C312.0,708.7 311.7,700.9 310.1,696.0 C308.5,691.1 306.1,688.2 304.0,684.5 C301.9,680.8 299.6,676.6 297.5,673.6 C295.4,670.6 293.3,667.9 291.2,666.3 C289.1,664.7 286.9,664.1 285.0,664.2 C283.1,664.3 281.4,665.4 280.0,667.0 C278.6,668.6 277.6,670.5 276.5,674.0 C275.4,677.5 274.6,683.7 273.5,688.0 C272.4,692.3 271.6,695.6 270.0,700.0 C268.4,704.4 266.3,708.8 264.0,714.5 C261.7,720.2 257.6,729.8 256.0,734.0 C254.4,738.2 255.2,737.4 254.5,740.0 C253.8,742.6 252.9,747.0 252.0,749.9 C251.1,752.8 250.1,754.9 249.0,757.6 C247.9,760.3 246.8,762.9 245.5,766.0 C244.2,769.1 242.8,773.5 241.5,776.0 C240.2,778.5 239.3,778.7 238.0,781.0 C236.7,783.3 235.2,787.0 233.7,789.6 C232.2,792.2 230.6,794.6 229.1,796.9 C227.6,799.2 226.2,801.9 224.5,803.4 C222.8,804.9 221.4,805.9 219.0,806.1 C216.6,806.3 212.6,805.0 209.8,804.7 C207.0,804.4 204.9,803.8 202.4,804.3 C199.9,804.8 197.2,805.7 195.1,808.0 C193.0,810.3 191.7,815.0 190.0,818.0 C188.3,821.0 186.6,823.7 185.0,826.0 C183.4,828.3 181.8,830.1 180.4,831.8 C179.0,833.5 178.2,835.6 176.7,836.4 C175.2,837.2 172.7,837.2 171.2,836.4 C169.7,835.6 168.7,833.8 167.5,831.8 C166.3,829.8 165.1,827.9 163.9,824.5 C162.7,821.1 161.4,815.9 160.2,811.6 C159.0,807.3 157.9,804.1 156.5,798.8 C155.1,793.5 153.6,785.1 151.9,780.0 C150.2,774.9 148.4,770.7 146.4,768.0 C144.4,765.3 141.9,764.6 140.0,764.0 C138.1,763.4 136.9,764.7 135.0,764.2 C133.1,763.7 130.4,762.2 128.4,760.9 C126.4,759.6 124.8,757.9 122.9,756.4 C121.0,754.9 117.9,752.7 116.9,752.0 Z" fill="#a4a6d6"/>
<path d="M116.9,743.2 C117.8,743.4 120.5,743.3 122.4,744.6 C124.3,745.9 126.5,749.3 128.4,750.9 C130.3,752.5 132.0,753.3 133.9,754.2 C135.8,755.1 137.8,755.8 140.0,756.5 C142.2,757.2 145.0,757.2 147.3,758.4 C149.6,759.6 151.7,761.1 153.8,763.9 C156.0,766.6 158.2,771.7 160.2,774.9 C162.2,778.1 164.0,780.9 165.7,783.2 C167.4,785.6 168.2,788.0 170.3,789.0 C172.5,790.0 175.7,789.9 178.6,789.1 C181.5,788.3 184.6,785.4 187.7,784.1 C190.8,782.8 194.1,782.1 196.9,781.3 C199.7,780.5 201.9,780.6 204.3,779.5 C206.8,778.4 209.5,776.6 211.6,774.9 C213.7,773.2 215.6,771.1 217.1,769.4 C218.6,767.7 219.7,766.3 220.8,764.8 C222.0,763.3 223.0,762.1 224.0,760.5 C225.0,758.9 225.8,757.2 226.8,755.0 C227.8,752.8 228.7,750.6 229.8,747.5 C231.0,744.4 231.9,740.7 233.7,736.5 C235.4,732.3 238.1,727.6 240.3,722.5 C242.5,717.4 245.1,711.8 246.9,706.0 C248.7,700.2 249.7,694.6 251.3,688.0 C252.9,681.4 254.4,672.9 256.3,666.3 C258.2,659.6 260.4,653.6 262.9,648.1 C265.4,642.6 268.4,636.9 271.2,633.2 C273.9,629.5 276.6,627.6 279.4,625.8 C282.1,624.0 284.9,623.2 287.7,622.5 C290.5,621.8 293.5,621.0 296.0,621.7 C298.5,622.4 300.9,625.2 302.6,626.6 C304.3,628.0 304.7,627.8 306.3,630.0 C307.9,632.2 310.2,635.6 312.2,639.6 C314.2,643.6 316.4,649.1 318.2,653.9 C320.0,658.7 321.3,663.4 322.9,668.2 C324.6,673.0 326.4,677.7 328.3,682.5 C330.2,687.3 332.3,692.0 334.3,696.8 C336.3,701.6 338.2,706.8 340.3,711.2 C342.4,715.6 344.8,719.9 347.1,723.1 C349.4,726.3 351.9,728.7 354.0,730.3 C356.1,731.9 358.2,731.8 360.0,732.7 C361.8,733.7 362.6,734.7 364.6,736.0 C366.6,737.3 369.4,738.5 371.9,740.5 C374.3,742.5 376.8,745.1 379.3,747.8 C381.8,750.5 384.0,753.9 386.7,756.7 C389.4,759.5 392.3,763.7 395.5,764.8 C398.7,765.9 401.6,763.8 405.8,763.3 C410.0,762.8 415.7,762.4 420.6,761.8 C425.5,761.2 430.4,760.4 435.3,759.6 C440.2,758.8 445.2,757.4 450.1,757.0 C455.0,756.6 459.9,757.2 464.8,757.4 C469.7,757.6 474.7,758.1 479.6,758.1 C484.5,758.1 489.4,757.6 494.3,757.4 C499.2,757.2 503.2,757.0 509.1,756.7 C515.1,756.5 521.1,755.8 530.0,755.9 C538.9,756.0 549.8,757.4 562.2,757.3 C574.6,757.2 592.7,755.8 604.4,755.2 C616.1,754.6 624.4,754.1 632.6,753.8 C640.8,753.5 647.8,753.1 653.7,753.2 C659.6,753.3 663.1,753.8 667.8,754.5 C672.5,755.2 677.0,756.7 681.9,757.3 C686.8,757.9 693.3,758.0 697.3,758.0 C701.3,758.0 703.0,758.2 705.8,757.3 C708.6,756.4 711.3,754.5 714.2,752.4 C717.1,750.3 721.9,745.9 723.4,744.6 L723.4,752.4 C721.9,753.1 717.1,754.0 714.2,756.6 C711.3,759.2 708.4,765.7 705.8,767.9 C703.2,770.1 701.5,770.2 698.7,770.0 C695.9,769.8 692.9,768.2 688.9,766.4 C684.9,764.6 679.5,761.1 674.8,759.4 C670.1,757.6 667.7,756.6 660.7,755.9 C653.7,755.2 639.6,755.1 632.6,755.2 C625.6,755.3 625.5,755.8 618.5,756.6 C611.5,757.4 599.8,759.2 590.4,760.1 C581.0,761.0 573.9,761.9 562.2,762.2 C550.5,762.5 528.9,762.2 520.0,762.0 C511.1,761.8 513.4,760.8 509.1,761.1 C504.8,761.4 499.2,762.9 494.3,764.0 C489.4,765.1 484.3,766.6 479.6,767.7 C474.9,768.8 471.0,770.2 466.3,770.7 C461.6,771.2 456.3,770.7 451.6,770.7 C446.9,770.7 442.2,769.9 438.3,770.7 C434.4,771.6 431.7,773.5 428.0,775.8 C424.3,778.1 419.9,782.2 416.2,784.7 C412.5,787.2 409.2,790.0 405.8,790.6 C402.4,791.2 399.2,789.4 395.5,788.4 C391.8,787.4 387.4,786.6 383.7,784.7 C380.0,782.9 376.6,779.8 373.4,777.3 C370.2,774.8 367.8,772.6 364.6,769.9 C361.4,767.2 357.2,762.9 354.2,761.1 C351.2,759.3 349.6,760.0 346.8,758.9 C344.0,757.8 340.1,756.2 337.3,754.2 C334.5,752.2 332.3,749.8 330.1,747.0 C327.9,744.2 326.2,741.0 324.2,737.4 C322.2,733.8 320.0,729.5 318.2,725.5 C316.4,721.5 314.8,718.5 313.4,713.6 C312.0,708.7 311.7,700.9 310.1,696.0 C308.5,691.1 306.1,688.2 304.0,684.5 C301.9,680.8 299.6,676.6 297.5,673.6 C295.4,670.6 293.3,667.9 291.2,666.3 C289.1,664.7 286.9,664.1 285.0,664.2 C283.1,664.3 281.4,665.4 280.0,667.0 C278.6,668.6 277.6,670.5 276.5,674.0 C275.4,677.5 274.6,683.7 273.5,688.0 C272.4,692.3 271.6,695.6 270.0,700.0 C268.4,704.4 266.3,708.8 264.0,714.5 C261.7,720.2 257.6,729.8 256.0,734.0 C254.4,738.2 255.2,737.4 254.5,740.0 C253.8,742.6 252.9,747.0 252.0,749.9 C251.1,752.8 250.1,754.9 249.0,757.6 C247.9,760.3 246.8,762.9 245.5,766.0 C244.2,769.1 242.8,773.5 241.5,776.0 C240.2,778.5 239.3,778.7 238.0,781.0 C236.7,783.3 235.2,787.0 233.7,789.6 C232.2,792.2 230.6,794.6 229.1,796.9 C227.6,799.2 226.2,801.9 224.5,803.4 C222.8,804.9 221.4,805.9 219.0,806.1 C216.6,806.3 212.6,805.0 209.8,804.7 C207.0,804.4 204.9,803.8 202.4,804.3 C199.9,804.8 197.2,805.7 195.1,808.0 C193.0,810.3 191.7,815.0 190.0,818.0 C188.3,821.0 186.6,823.7 185.0,826.0 C183.4,828.3 181.8,830.1 180.4,831.8 C179.0,833.5 178.2,835.6 176.7,836.4 C175.2,837.2 172.7,837.2 171.2,836.4 C169.7,835.6 168.7,833.8 167.5,831.8 C166.3,829.8 165.1,827.9 163.9,824.5 C162.7,821.1 161.4,815.9 160.2,811.6 C159.0,807.3 157.9,804.1 156.5,798.8 C155.1,793.5 153.6,785.1 151.9,780.0 C150.2,774.9 148.4,770.7 146.4,768.0 C144.4,765.3 141.9,764.6 140.0,764.0 C138.1,763.4 136.9,764.7 135.0,764.2 C133.1,763.7 130.4,762.2 128.4,760.9 C126.4,759.6 124.8,757.9 122.9,756.4 C121.0,754.9 117.9,752.7 116.9,752.0 Z" fill="#757683" clip-path="url(#cgBL)"/>
<path d="M117,755.1 H723.9" stroke="#2c2c2c" stroke-width="1.35"/>
<path d="M116.9,747.6 C117.8,748.0 120.7,748.7 122.4,749.8 C124.1,750.9 125.6,752.8 127.3,754.2 C128.9,755.6 130.6,757.2 132.3,758.1 C134.1,759.0 136.5,759.3 137.8,759.5 C139.1,759.7 138.4,758.9 140.0,759.3 C141.6,759.6 145.0,759.5 147.3,761.6 C149.6,763.7 152.0,768.4 153.8,772.1 C155.7,775.9 156.7,779.1 158.4,784.1 C160.1,789.1 161.9,797.7 163.9,802.4 C165.9,807.1 168.2,810.6 170.3,812.5 C172.4,814.4 174.5,814.2 176.7,813.5 C178.8,812.8 181.0,810.1 183.2,808.0 C185.3,805.9 187.5,802.8 189.6,800.6 C191.7,798.5 193.9,796.5 196.0,795.1 C198.1,793.7 199.5,793.1 202.4,792.3 C205.3,791.4 210.6,791.1 213.5,790.0 C216.4,788.9 217.8,787.6 219.9,785.9 C222.0,784.1 224.3,782.1 226.3,779.5 C228.3,776.9 230.4,773.2 231.8,770.3 C233.2,767.4 233.6,764.9 234.5,762.0 C235.4,759.1 235.8,756.7 237.0,753.0 C238.2,749.3 239.9,744.3 241.5,740.0 C243.1,735.7 244.2,733.1 246.4,727.4 C248.6,721.7 251.8,713.1 254.6,706.0 C257.3,698.9 260.1,691.7 262.9,684.5 C265.7,677.3 268.4,669.2 271.2,663.0 C273.9,656.8 276.8,650.5 279.4,647.0 C282.0,643.5 284.4,642.1 286.7,641.7 C289.0,641.4 291.0,643.1 293.1,644.9 C295.2,646.7 297.1,649.6 299.1,652.7 C301.1,655.8 303.1,659.6 305.1,663.4 C307.1,667.2 309.0,671.2 311.0,675.4 C313.0,679.6 315.0,684.3 317.0,688.5 C319.0,692.7 321.0,696.4 323.0,700.4 C325.0,704.4 326.9,708.4 328.9,712.4 C330.9,716.4 332.7,720.5 334.9,724.3 C337.1,728.1 339.7,731.8 342.1,735.0 C344.5,738.2 346.8,741.0 349.2,743.4 C351.6,745.8 354.3,747.8 356.4,749.4 C358.5,751.0 360.4,752.1 362.0,753.0 C363.6,753.9 364.1,753.1 366.0,754.5 C367.9,755.9 370.4,758.5 373.4,761.1 C376.3,763.7 380.5,767.5 383.7,769.9 C386.9,772.3 389.4,774.6 392.6,775.8 C395.8,777.0 399.5,777.4 402.9,777.3 C406.3,777.2 409.5,776.3 413.2,775.1 C416.9,773.9 421.1,771.6 425.0,769.9 C428.9,768.2 432.4,765.9 436.8,764.8 C441.2,763.7 446.7,763.5 451.6,763.3 C456.5,763.0 460.4,763.7 466.3,763.3 C472.2,762.9 481.0,761.8 486.9,761.1 C492.8,760.4 496.2,759.4 501.7,758.9 C507.2,758.4 512.3,758.0 520.0,758.0 C527.7,758.0 538.7,758.6 548.1,758.7 C557.5,758.8 566.9,759.0 576.3,758.7 C585.7,758.4 595.0,757.6 604.4,756.9 C613.8,756.2 624.4,754.9 632.6,754.5 C640.8,754.1 647.8,754.1 653.7,754.5 C659.6,754.9 663.1,755.7 667.8,756.6 C672.5,757.5 676.8,758.8 681.9,760.1 C687.0,761.4 694.7,763.9 698.7,764.3 C702.7,764.6 703.2,764.0 705.8,762.2 C708.4,760.5 711.3,756.0 714.2,753.8 C717.1,751.6 721.9,749.7 723.4,748.9" fill="none" stroke="#3f54b4" stroke-width="1.15"/>
<path d="M116.9,753.1 C117.8,753.3 120.5,753.4 122.4,754.2 C124.3,755.0 126.3,757.2 128.4,758.1 C130.5,759.0 133.1,759.5 135.0,759.8 C136.9,760.1 138.1,759.4 140.0,759.7 C141.9,760.0 144.1,759.8 146.4,761.6 C148.7,763.4 151.8,767.2 153.8,770.3 C155.8,773.4 156.9,776.9 158.4,780.4 C159.9,783.9 161.5,787.7 163.0,791.4 C164.5,795.1 166.0,799.2 167.5,802.4 C169.0,805.6 170.5,808.6 172.1,810.7 C173.7,812.9 175.3,814.7 177.2,815.3 C179.0,815.9 181.1,815.3 183.2,814.4 C185.3,813.5 187.5,811.3 189.6,809.8 C191.7,808.3 193.6,806.7 196.0,805.2 C198.4,803.8 201.4,802.5 204.3,801.1 C207.2,799.7 210.9,798.8 213.5,796.9 C216.1,795.0 217.8,792.2 219.9,789.5 C222.0,786.8 224.3,783.8 226.3,780.4 C228.3,777.0 230.0,773.7 231.8,769.4 C233.6,765.1 234.8,760.6 237.0,754.7 C239.2,748.8 242.1,740.8 244.8,734.0 C247.5,727.2 250.3,721.1 253.0,714.2 C255.7,707.3 258.4,699.0 261.2,692.7 C263.9,686.4 267.0,680.6 269.5,676.2 C272.0,671.8 273.9,668.5 276.1,666.3 C278.3,664.1 280.8,663.4 282.7,662.8 C284.6,662.2 285.8,662.1 287.5,662.6 C289.2,663.1 291.2,664.1 293.1,665.8 C295.0,667.5 296.9,670.0 299.1,673.0 C301.3,676.0 303.9,679.9 306.3,683.7 C308.7,687.5 311.0,691.7 313.4,695.7 C315.8,699.7 318.2,703.6 320.6,707.6 C323.0,711.6 325.3,715.7 327.7,719.5 C330.1,723.3 332.5,726.9 334.9,730.3 C337.3,733.7 339.7,737.0 342.1,739.8 C344.5,742.6 346.8,745.0 349.2,747.0 C351.6,749.0 354.3,750.8 356.4,751.8 C358.5,752.8 359.9,752.8 362.0,753.3 C364.1,753.8 365.4,754.3 369.0,754.5 C372.6,754.7 378.8,754.6 383.7,754.5 C388.6,754.4 391.1,753.8 398.5,753.7 C405.9,753.6 419.4,753.8 428.0,753.7 C436.6,753.6 442.7,753.3 450.1,753.3 C457.5,753.3 466.1,753.6 472.2,753.7 C478.3,753.8 482.0,753.5 486.9,753.7 C491.8,753.9 494.5,754.6 501.7,754.8 C508.9,755.0 520.3,755.0 530.0,755.0 C539.7,755.0 548.3,754.8 560.0,754.8 C571.7,754.8 586.7,755.0 600.0,755.0 C613.3,755.0 626.7,754.8 640.0,754.8 C653.3,754.8 670.0,755.0 680.0,755.0 C690.0,755.0 694.2,755.0 700.0,755.0 C705.8,755.0 711.1,755.0 715.0,754.8 C718.9,754.6 722.0,754.0 723.4,753.8" fill="none" stroke="#1e1e1e" stroke-width="1.3"/>
<defs><clipPath id="cgBR"><path d="M860.8,755.3 C861.7,755.6 864.2,756.2 866.1,757.4 C868.0,758.5 870.4,759.9 872.2,762.2 C874.1,764.5 875.7,768.1 877.2,771.3 C878.7,774.5 880.0,776.8 881.3,781.4 C882.5,786.0 883.2,793.9 884.7,799.0 C886.2,804.1 888.2,807.9 890.2,811.9 C892.2,815.9 894.5,820.5 896.6,823.0 C898.8,825.5 901.0,827.0 903.1,827.1 C905.2,827.2 907.4,825.2 909.5,823.9 C911.6,822.6 913.8,820.8 915.9,819.3 C918.0,817.8 920.0,816.1 922.3,814.7 C924.6,813.3 927.4,812.1 929.7,811.0 C932.0,809.9 934.0,809.3 936.0,808.0 C938.0,806.7 940.1,804.8 942.0,803.0 C943.9,801.2 945.8,799.4 947.5,797.0 C949.2,794.6 951.0,791.8 952.5,788.5 C954.0,785.2 955.2,781.2 956.5,777.5 C957.8,773.8 959.4,770.1 960.5,766.5 C961.6,762.9 962.1,759.5 963.0,756.0 C963.9,752.5 964.8,749.2 965.8,745.5 C966.8,741.8 967.8,738.2 969.0,734.0 C970.2,729.8 971.7,724.2 972.9,720.0 C974.1,715.8 974.8,713.7 976.0,709.0 C977.2,704.3 978.9,697.3 980.4,692.0 C981.9,686.7 983.5,681.5 985.0,677.0 C986.5,672.5 987.3,669.8 989.6,665.0 C991.9,660.2 995.7,652.6 998.8,648.5 C1001.9,644.4 1005.0,642.2 1008.0,640.4 C1011.0,638.6 1014.1,637.6 1017.1,637.6 C1020.1,637.6 1023.5,638.5 1026.3,640.4 C1029.1,642.2 1031.0,646.0 1033.8,648.7 C1036.6,651.5 1040.2,653.7 1042.9,656.9 C1045.6,660.1 1048.0,664.3 1050.0,668.0 C1052.0,671.7 1053.3,675.0 1055.0,679.0 C1056.7,683.0 1058.6,688.5 1060.0,692.0 C1061.4,695.5 1062.3,696.7 1063.5,700.0 C1064.7,703.3 1064.9,708.0 1067.0,712.0 C1069.1,716.0 1073.0,720.4 1075.9,724.1 C1078.9,727.8 1081.6,731.1 1084.7,734.0 C1087.8,736.9 1091.1,739.5 1094.6,741.7 C1098.1,743.9 1101.9,745.6 1105.6,747.2 C1109.3,748.9 1113.1,750.5 1116.6,751.6 C1120.1,752.7 1120.9,753.4 1126.5,753.8 C1132.1,754.1 1137.8,753.8 1150.0,753.7 C1162.2,753.7 1183.3,753.5 1200.0,753.5 C1216.7,753.5 1233.3,753.6 1250.0,753.7 C1266.7,753.8 1283.3,753.9 1300.0,753.9 C1316.7,753.9 1333.3,753.7 1350.0,753.7 C1366.7,753.7 1385.0,753.7 1400.0,753.7 C1415.0,753.7 1428.8,753.7 1440.0,753.7 C1451.2,753.8 1462.9,754.0 1467.5,754.0 L1467.5,756.6 C1462.9,756.5 1451.2,756.3 1440.0,756.3 C1428.8,756.2 1415.0,756.3 1400.0,756.3 C1385.0,756.3 1366.7,756.3 1350.0,756.3 C1333.3,756.3 1316.7,756.5 1300.0,756.5 C1283.3,756.5 1266.7,756.4 1250.0,756.3 C1233.3,756.2 1216.7,756.1 1200.0,756.1 C1183.3,756.1 1163.3,756.1 1150.0,756.3 C1136.7,756.5 1127.2,757.0 1120.0,757.2 C1112.8,757.5 1110.6,757.4 1106.7,757.8 C1102.8,758.1 1100.1,758.9 1096.8,759.3 C1093.5,759.7 1090.0,760.8 1086.9,760.4 C1083.8,760.0 1080.9,759.1 1078.1,757.1 C1075.3,755.1 1072.9,751.4 1070.3,748.3 C1067.7,745.2 1065.3,742.1 1062.6,738.4 C1059.8,734.7 1056.8,731.3 1053.8,726.3 C1050.8,721.3 1047.5,713.2 1044.7,708.4 C1042.0,703.6 1039.8,700.4 1037.3,697.3 C1034.8,694.2 1032.5,691.5 1030.0,690.0 C1027.5,688.5 1025.0,687.5 1022.6,688.0 C1020.1,688.5 1017.7,690.2 1015.3,693.0 C1012.9,695.8 1010.5,700.6 1008.0,704.7 C1005.5,708.8 1002.4,714.0 1000.6,717.5 C998.8,721.0 998.8,721.4 997.1,725.5 C995.4,729.6 992.5,736.9 990.5,742.0 C988.5,747.1 986.6,752.0 985.0,756.4 C983.4,760.8 982.2,764.3 980.6,768.5 C979.0,772.7 977.1,777.3 975.1,781.7 C973.1,786.1 970.7,790.9 968.5,794.9 C966.3,798.9 964.8,802.3 961.9,806.0 C959.0,809.7 954.0,813.7 951.0,817.0 C948.0,820.3 946.2,823.6 944.0,826.0 C941.8,828.4 939.9,829.1 938.0,831.2 C936.1,833.3 934.2,836.0 932.4,838.6 C930.5,841.2 928.7,844.2 926.9,846.8 C925.1,849.4 923.2,851.9 921.4,854.2 C919.6,856.5 917.6,858.3 915.9,860.6 C914.2,862.9 912.8,865.4 911.3,868.0 C909.8,870.6 908.2,873.9 906.7,876.2 C905.2,878.5 903.8,881.1 902.1,881.7 C900.4,882.3 898.3,882.5 896.6,879.9 C894.9,877.3 893.2,870.9 892.0,866.0 C890.8,861.1 890.4,856.1 889.3,850.5 C888.2,844.9 886.8,838.2 885.6,832.1 C884.4,826.0 883.0,819.1 881.9,813.8 C880.8,808.4 880.1,804.7 879.2,800.0 C878.3,795.3 877.5,789.5 876.7,785.4 C875.9,781.3 875.1,778.3 874.2,775.3 C873.3,772.3 872.6,769.8 871.2,767.2 C869.9,764.6 867.8,761.4 866.1,759.6 C864.4,757.8 861.7,757.1 860.8,756.6 Z"/></clipPath></defs>
<path d="M860.8,755.3 C861.7,755.6 864.2,756.2 866.1,757.4 C868.0,758.5 870.4,759.9 872.2,762.2 C874.1,764.5 875.7,768.1 877.2,771.3 C878.7,774.5 880.0,776.8 881.3,781.4 C882.5,786.0 883.2,793.9 884.7,799.0 C886.2,804.1 888.2,807.9 890.2,811.9 C892.2,815.9 894.5,820.5 896.6,823.0 C898.8,825.5 901.0,827.0 903.1,827.1 C905.2,827.2 907.4,825.2 909.5,823.9 C911.6,822.6 913.8,820.8 915.9,819.3 C918.0,817.8 920.0,816.1 922.3,814.7 C924.6,813.3 927.4,812.1 929.7,811.0 C932.0,809.9 934.0,809.3 936.0,808.0 C938.0,806.7 940.1,804.8 942.0,803.0 C943.9,801.2 945.8,799.4 947.5,797.0 C949.2,794.6 951.0,791.8 952.5,788.5 C954.0,785.2 955.2,781.2 956.5,777.5 C957.8,773.8 959.4,770.1 960.5,766.5 C961.6,762.9 962.1,759.5 963.0,756.0 C963.9,752.5 964.8,749.2 965.8,745.5 C966.8,741.8 967.8,738.2 969.0,734.0 C970.2,729.8 971.7,724.2 972.9,720.0 C974.1,715.8 974.8,713.7 976.0,709.0 C977.2,704.3 978.9,697.3 980.4,692.0 C981.9,686.7 983.5,681.5 985.0,677.0 C986.5,672.5 987.3,669.8 989.6,665.0 C991.9,660.2 995.7,652.6 998.8,648.5 C1001.9,644.4 1005.0,642.2 1008.0,640.4 C1011.0,638.6 1014.1,637.6 1017.1,637.6 C1020.1,637.6 1023.5,638.5 1026.3,640.4 C1029.1,642.2 1031.0,646.0 1033.8,648.7 C1036.6,651.5 1040.2,653.7 1042.9,656.9 C1045.6,660.1 1048.0,664.3 1050.0,668.0 C1052.0,671.7 1053.3,675.0 1055.0,679.0 C1056.7,683.0 1058.6,688.5 1060.0,692.0 C1061.4,695.5 1062.3,696.7 1063.5,700.0 C1064.7,703.3 1064.9,708.0 1067.0,712.0 C1069.1,716.0 1073.0,720.4 1075.9,724.1 C1078.9,727.8 1081.6,731.1 1084.7,734.0 C1087.8,736.9 1091.1,739.5 1094.6,741.7 C1098.1,743.9 1101.9,745.6 1105.6,747.2 C1109.3,748.9 1113.1,750.5 1116.6,751.6 C1120.1,752.7 1120.9,753.4 1126.5,753.8 C1132.1,754.1 1137.8,753.8 1150.0,753.7 C1162.2,753.7 1183.3,753.5 1200.0,753.5 C1216.7,753.5 1233.3,753.6 1250.0,753.7 C1266.7,753.8 1283.3,753.9 1300.0,753.9 C1316.7,753.9 1333.3,753.7 1350.0,753.7 C1366.7,753.7 1385.0,753.7 1400.0,753.7 C1415.0,753.7 1428.8,753.7 1440.0,753.7 C1451.2,753.8 1462.9,754.0 1467.5,754.0 L1467.5,756.6 C1462.9,756.5 1451.2,756.3 1440.0,756.3 C1428.8,756.2 1415.0,756.3 1400.0,756.3 C1385.0,756.3 1366.7,756.3 1350.0,756.3 C1333.3,756.3 1316.7,756.5 1300.0,756.5 C1283.3,756.5 1266.7,756.4 1250.0,756.3 C1233.3,756.2 1216.7,756.1 1200.0,756.1 C1183.3,756.1 1163.3,756.1 1150.0,756.3 C1136.7,756.5 1127.2,757.0 1120.0,757.2 C1112.8,757.5 1110.6,757.4 1106.7,757.8 C1102.8,758.1 1100.1,758.9 1096.8,759.3 C1093.5,759.7 1090.0,760.8 1086.9,760.4 C1083.8,760.0 1080.9,759.1 1078.1,757.1 C1075.3,755.1 1072.9,751.4 1070.3,748.3 C1067.7,745.2 1065.3,742.1 1062.6,738.4 C1059.8,734.7 1056.8,731.3 1053.8,726.3 C1050.8,721.3 1047.5,713.2 1044.7,708.4 C1042.0,703.6 1039.8,700.4 1037.3,697.3 C1034.8,694.2 1032.5,691.5 1030.0,690.0 C1027.5,688.5 1025.0,687.5 1022.6,688.0 C1020.1,688.5 1017.7,690.2 1015.3,693.0 C1012.9,695.8 1010.5,700.6 1008.0,704.7 C1005.5,708.8 1002.4,714.0 1000.6,717.5 C998.8,721.0 998.8,721.4 997.1,725.5 C995.4,729.6 992.5,736.9 990.5,742.0 C988.5,747.1 986.6,752.0 985.0,756.4 C983.4,760.8 982.2,764.3 980.6,768.5 C979.0,772.7 977.1,777.3 975.1,781.7 C973.1,786.1 970.7,790.9 968.5,794.9 C966.3,798.9 964.8,802.3 961.9,806.0 C959.0,809.7 954.0,813.7 951.0,817.0 C948.0,820.3 946.2,823.6 944.0,826.0 C941.8,828.4 939.9,829.1 938.0,831.2 C936.1,833.3 934.2,836.0 932.4,838.6 C930.5,841.2 928.7,844.2 926.9,846.8 C925.1,849.4 923.2,851.9 921.4,854.2 C919.6,856.5 917.6,858.3 915.9,860.6 C914.2,862.9 912.8,865.4 911.3,868.0 C909.8,870.6 908.2,873.9 906.7,876.2 C905.2,878.5 903.8,881.1 902.1,881.7 C900.4,882.3 898.3,882.5 896.6,879.9 C894.9,877.3 893.2,870.9 892.0,866.0 C890.8,861.1 890.4,856.1 889.3,850.5 C888.2,844.9 886.8,838.2 885.6,832.1 C884.4,826.0 883.0,819.1 881.9,813.8 C880.8,808.4 880.1,804.7 879.2,800.0 C878.3,795.3 877.5,789.5 876.7,785.4 C875.9,781.3 875.1,778.3 874.2,775.3 C873.3,772.3 872.6,769.8 871.2,767.2 C869.9,764.6 867.8,761.4 866.1,759.6 C864.4,757.8 861.7,757.1 860.8,756.6 Z" fill="#8a8b8e"/>
<path d="M860.8,760.7 C861.3,761.6 862.6,764.4 863.6,766.2 C864.6,768.0 865.6,768.9 866.6,771.3 C867.6,773.7 868.6,777.2 869.6,780.4 C870.6,783.6 871.3,786.2 872.7,790.5 C874.1,794.8 876.6,801.5 877.8,806.1 C879.0,810.8 879.0,813.3 880.1,818.4 C881.2,823.5 883.3,831.2 884.7,836.7 C886.1,842.2 887.2,846.5 888.4,851.4 C889.6,856.3 890.5,863.3 892.0,866.1 C893.5,868.9 895.4,869.2 897.5,868.0 C899.6,866.8 902.6,862.0 904.9,858.8 C907.2,855.6 909.1,852.1 911.3,848.7 C913.4,845.3 915.8,842.1 917.8,838.6 C919.8,835.1 921.5,830.9 923.3,827.5 C925.1,824.1 927.0,821.4 928.8,818.4 C930.6,815.4 932.5,811.8 934.3,809.2 C936.1,806.6 938.0,804.8 939.8,802.8 C941.6,800.8 943.4,799.5 945.3,797.1 C947.1,794.7 949.2,791.6 950.9,788.3 C952.6,785.0 953.8,781.0 955.3,777.3 C956.8,773.6 958.6,769.8 959.7,766.3 C960.8,762.8 961.0,759.9 961.9,756.4 C962.8,752.9 964.2,749.0 965.3,745.3 C966.4,741.6 967.4,738.5 968.6,734.3 C969.8,730.1 971.5,724.2 972.7,720.0 C973.9,715.8 974.5,713.6 976.0,709.0 C977.5,704.4 979.7,697.7 981.5,692.5 C983.3,687.3 985.0,682.5 986.7,678.0 C988.4,673.5 990.2,668.9 991.6,665.5 C993.0,662.1 993.8,659.8 994.8,657.5 C995.8,655.2 996.5,653.5 997.5,651.5 C998.5,649.5 999.9,647.2 1000.7,645.5 C1001.5,643.8 1001.5,643.0 1002.5,641.3 C1003.5,639.5 1005.0,637.1 1006.5,635.0 C1008.0,632.9 1009.6,630.8 1011.7,628.5 C1013.8,626.2 1017.1,623.0 1019.1,621.1 C1021.1,619.2 1022.2,618.0 1023.7,617.4 C1025.2,616.8 1026.5,616.3 1028.3,617.4 C1030.1,618.5 1032.3,621.0 1034.7,623.9 C1037.1,626.8 1040.0,629.7 1042.9,634.9 C1045.8,640.1 1049.2,648.7 1052.1,655.1 C1055.0,661.5 1058.1,668.1 1060.3,673.5 C1062.5,678.9 1063.3,683.7 1065.0,687.5 C1066.7,691.3 1068.1,692.8 1070.3,696.5 C1072.5,700.2 1075.3,705.9 1078.1,709.8 C1080.9,713.7 1083.8,716.6 1086.9,719.7 C1090.0,722.8 1093.5,725.6 1096.8,728.5 C1100.1,731.4 1103.4,734.5 1106.7,737.3 C1110.0,740.0 1113.3,742.6 1116.6,745.0 C1119.9,747.4 1123.4,749.9 1126.5,751.6 C1129.6,753.4 1131.2,754.6 1135.0,755.5 C1138.8,756.4 1143.0,756.9 1149.6,757.2 C1156.2,757.5 1166.1,757.3 1174.4,757.2 C1182.7,757.1 1190.9,756.7 1199.2,756.7 C1207.5,756.7 1215.7,757.2 1224.0,757.2 C1232.3,757.2 1240.5,756.9 1248.8,756.7 C1257.1,756.5 1261.2,756.2 1273.6,756.0 C1286.0,755.8 1306.7,755.5 1323.2,755.2 C1339.7,754.9 1358.3,754.8 1372.8,754.2 C1387.3,753.6 1397.6,752.2 1410.0,751.7 C1422.4,751.2 1438.9,750.7 1447.2,751.0 C1455.5,751.3 1456.3,752.5 1459.6,753.5 C1462.9,754.5 1465.8,756.6 1467.1,757.2 L1467.1,782.0 C1465.0,777.9 1460.1,761.8 1454.7,757.2 C1449.3,752.6 1444.3,754.5 1434.8,754.2 C1425.3,753.9 1412.1,754.8 1397.6,755.2 C1383.1,755.6 1364.5,756.3 1348.0,756.7 C1331.5,757.1 1312.9,757.0 1298.4,757.7 C1283.9,758.4 1271.5,759.1 1261.2,760.9 C1250.9,762.7 1244.7,766.0 1236.4,768.4 C1228.1,770.8 1219.9,773.5 1211.6,775.1 C1203.3,776.8 1194.2,776.3 1186.8,778.3 C1179.4,780.3 1172.8,784.3 1167.0,787.0 C1161.2,789.7 1157.4,793.7 1152.1,794.4 C1146.8,795.1 1139.6,792.5 1135.0,791.3 C1130.4,790.0 1127.5,788.2 1124.3,786.9 C1121.0,785.6 1118.4,785.2 1115.5,783.6 C1112.6,782.0 1109.6,779.2 1106.7,777.0 C1103.8,774.8 1100.8,772.6 1097.9,770.4 C1095.0,768.2 1091.8,765.9 1089.1,763.7 C1086.4,761.6 1084.3,759.5 1082.0,757.5 C1079.7,755.5 1077.5,753.9 1075.0,752.0 C1072.5,750.1 1069.6,748.2 1067.0,746.1 C1064.4,744.0 1061.9,742.4 1059.3,739.5 C1056.7,736.6 1054.3,732.8 1051.6,728.5 C1048.8,724.2 1045.8,718.2 1042.8,713.9 C1039.8,709.6 1036.8,705.9 1033.7,702.8 C1030.7,699.7 1027.3,696.6 1024.5,695.5 C1021.7,694.4 1020.1,694.2 1017.1,696.0 C1014.1,697.8 1009.5,702.2 1006.5,706.0 C1003.5,709.8 1000.9,715.0 999.0,718.5 C997.1,722.0 996.9,722.9 995.2,727.0 C993.5,731.1 990.7,738.0 988.7,743.0 C986.7,748.0 984.9,752.7 983.3,757.0 C981.7,761.3 980.6,764.8 978.9,769.0 C977.2,773.2 975.4,777.5 973.3,782.0 C971.2,786.5 968.8,791.8 966.5,796.0 C964.2,800.2 962.5,803.3 959.8,807.0 C957.0,810.7 953.0,814.7 950.0,818.4 C947.0,822.1 944.2,826.0 941.6,829.4 C939.0,832.8 936.8,835.4 934.3,838.6 C931.8,841.8 929.0,844.9 926.9,848.5 C924.8,852.1 923.0,855.5 921.5,860.0 C920.0,864.5 919.0,870.6 917.8,875.3 C916.6,880.0 915.2,884.1 914.1,888.2 C913.0,892.3 912.2,895.7 911.3,900.0 C910.4,904.3 910.2,907.0 908.7,914.1 C907.2,921.2 904.1,934.2 902.1,942.8 C900.1,951.4 898.4,960.6 896.6,965.9 C894.8,971.2 892.6,977.1 891.1,974.7 C889.6,972.3 889.0,964.1 887.8,951.6 C886.6,939.1 884.9,911.5 883.8,900.0 C882.7,888.5 881.9,888.6 881.0,882.6 C880.1,876.6 879.2,870.4 878.3,864.3 C877.4,858.2 876.4,852.0 875.5,845.9 C874.6,839.8 873.7,833.1 872.8,827.5 C871.9,821.9 871.0,817.8 870.0,812.0 C869.0,806.2 867.9,798.0 866.8,793.0 C865.7,788.0 864.6,786.2 863.6,782.0 C862.6,777.8 861.3,770.3 860.8,768.0 Z" fill="#f7ab92"/>
<path d="M860.8,760.7 C861.3,761.6 862.6,764.4 863.6,766.2 C864.6,768.0 865.6,768.9 866.6,771.3 C867.6,773.7 868.6,777.2 869.6,780.4 C870.6,783.6 871.3,786.2 872.7,790.5 C874.1,794.8 876.6,801.5 877.8,806.1 C879.0,810.8 879.0,813.3 880.1,818.4 C881.2,823.5 883.3,831.2 884.7,836.7 C886.1,842.2 887.2,846.5 888.4,851.4 C889.6,856.3 890.5,863.3 892.0,866.1 C893.5,868.9 895.4,869.2 897.5,868.0 C899.6,866.8 902.6,862.0 904.9,858.8 C907.2,855.6 909.1,852.1 911.3,848.7 C913.4,845.3 915.8,842.1 917.8,838.6 C919.8,835.1 921.5,830.9 923.3,827.5 C925.1,824.1 927.0,821.4 928.8,818.4 C930.6,815.4 932.5,811.8 934.3,809.2 C936.1,806.6 938.0,804.8 939.8,802.8 C941.6,800.8 943.4,799.5 945.3,797.1 C947.1,794.7 949.2,791.6 950.9,788.3 C952.6,785.0 953.8,781.0 955.3,777.3 C956.8,773.6 958.6,769.8 959.7,766.3 C960.8,762.8 961.0,759.9 961.9,756.4 C962.8,752.9 964.2,749.0 965.3,745.3 C966.4,741.6 967.4,738.5 968.6,734.3 C969.8,730.1 971.5,724.2 972.7,720.0 C973.9,715.8 974.5,713.6 976.0,709.0 C977.5,704.4 979.7,697.7 981.5,692.5 C983.3,687.3 985.0,682.5 986.7,678.0 C988.4,673.5 990.2,668.9 991.6,665.5 C993.0,662.1 993.8,659.8 994.8,657.5 C995.8,655.2 996.5,653.5 997.5,651.5 C998.5,649.5 999.9,647.2 1000.7,645.5 C1001.5,643.8 1001.5,643.0 1002.5,641.3 C1003.5,639.5 1005.0,637.1 1006.5,635.0 C1008.0,632.9 1009.6,630.8 1011.7,628.5 C1013.8,626.2 1017.1,623.0 1019.1,621.1 C1021.1,619.2 1022.2,618.0 1023.7,617.4 C1025.2,616.8 1026.5,616.3 1028.3,617.4 C1030.1,618.5 1032.3,621.0 1034.7,623.9 C1037.1,626.8 1040.0,629.7 1042.9,634.9 C1045.8,640.1 1049.2,648.7 1052.1,655.1 C1055.0,661.5 1058.1,668.1 1060.3,673.5 C1062.5,678.9 1063.3,683.7 1065.0,687.5 C1066.7,691.3 1068.1,692.8 1070.3,696.5 C1072.5,700.2 1075.3,705.9 1078.1,709.8 C1080.9,713.7 1083.8,716.6 1086.9,719.7 C1090.0,722.8 1093.5,725.6 1096.8,728.5 C1100.1,731.4 1103.4,734.5 1106.7,737.3 C1110.0,740.0 1113.3,742.6 1116.6,745.0 C1119.9,747.4 1123.4,749.9 1126.5,751.6 C1129.6,753.4 1131.2,754.6 1135.0,755.5 C1138.8,756.4 1143.0,756.9 1149.6,757.2 C1156.2,757.5 1166.1,757.3 1174.4,757.2 C1182.7,757.1 1190.9,756.7 1199.2,756.7 C1207.5,756.7 1215.7,757.2 1224.0,757.2 C1232.3,757.2 1240.5,756.9 1248.8,756.7 C1257.1,756.5 1261.2,756.2 1273.6,756.0 C1286.0,755.8 1306.7,755.5 1323.2,755.2 C1339.7,754.9 1358.3,754.8 1372.8,754.2 C1387.3,753.6 1397.6,752.2 1410.0,751.7 C1422.4,751.2 1438.9,750.7 1447.2,751.0 C1455.5,751.3 1456.3,752.5 1459.6,753.5 C1462.9,754.5 1465.8,756.6 1467.1,757.2 L1467.1,782.0 C1465.0,777.9 1460.1,761.8 1454.7,757.2 C1449.3,752.6 1444.3,754.5 1434.8,754.2 C1425.3,753.9 1412.1,754.8 1397.6,755.2 C1383.1,755.6 1364.5,756.3 1348.0,756.7 C1331.5,757.1 1312.9,757.0 1298.4,757.7 C1283.9,758.4 1271.5,759.1 1261.2,760.9 C1250.9,762.7 1244.7,766.0 1236.4,768.4 C1228.1,770.8 1219.9,773.5 1211.6,775.1 C1203.3,776.8 1194.2,776.3 1186.8,778.3 C1179.4,780.3 1172.8,784.3 1167.0,787.0 C1161.2,789.7 1157.4,793.7 1152.1,794.4 C1146.8,795.1 1139.6,792.5 1135.0,791.3 C1130.4,790.0 1127.5,788.2 1124.3,786.9 C1121.0,785.6 1118.4,785.2 1115.5,783.6 C1112.6,782.0 1109.6,779.2 1106.7,777.0 C1103.8,774.8 1100.8,772.6 1097.9,770.4 C1095.0,768.2 1091.8,765.9 1089.1,763.7 C1086.4,761.6 1084.3,759.5 1082.0,757.5 C1079.7,755.5 1077.5,753.9 1075.0,752.0 C1072.5,750.1 1069.6,748.2 1067.0,746.1 C1064.4,744.0 1061.9,742.4 1059.3,739.5 C1056.7,736.6 1054.3,732.8 1051.6,728.5 C1048.8,724.2 1045.8,718.2 1042.8,713.9 C1039.8,709.6 1036.8,705.9 1033.7,702.8 C1030.7,699.7 1027.3,696.6 1024.5,695.5 C1021.7,694.4 1020.1,694.2 1017.1,696.0 C1014.1,697.8 1009.5,702.2 1006.5,706.0 C1003.5,709.8 1000.9,715.0 999.0,718.5 C997.1,722.0 996.9,722.9 995.2,727.0 C993.5,731.1 990.7,738.0 988.7,743.0 C986.7,748.0 984.9,752.7 983.3,757.0 C981.7,761.3 980.6,764.8 978.9,769.0 C977.2,773.2 975.4,777.5 973.3,782.0 C971.2,786.5 968.8,791.8 966.5,796.0 C964.2,800.2 962.5,803.3 959.8,807.0 C957.0,810.7 953.0,814.7 950.0,818.4 C947.0,822.1 944.2,826.0 941.6,829.4 C939.0,832.8 936.8,835.4 934.3,838.6 C931.8,841.8 929.0,844.9 926.9,848.5 C924.8,852.1 923.0,855.5 921.5,860.0 C920.0,864.5 919.0,870.6 917.8,875.3 C916.6,880.0 915.2,884.1 914.1,888.2 C913.0,892.3 912.2,895.7 911.3,900.0 C910.4,904.3 910.2,907.0 908.7,914.1 C907.2,921.2 904.1,934.2 902.1,942.8 C900.1,951.4 898.4,960.6 896.6,965.9 C894.8,971.2 892.6,977.1 891.1,974.7 C889.6,972.3 889.0,964.1 887.8,951.6 C886.6,939.1 884.9,911.5 883.8,900.0 C882.7,888.5 881.9,888.6 881.0,882.6 C880.1,876.6 879.2,870.4 878.3,864.3 C877.4,858.2 876.4,852.0 875.5,845.9 C874.6,839.8 873.7,833.1 872.8,827.5 C871.9,821.9 871.0,817.8 870.0,812.0 C869.0,806.2 867.9,798.0 866.8,793.0 C865.7,788.0 864.6,786.2 863.6,782.0 C862.6,777.8 861.3,770.3 860.8,768.0 Z" fill="#ae7b68" clip-path="url(#cgBR)"/>
<path d="M860.8,755.4 H1467.7" stroke="#2c2c2c" stroke-width="1.35"/>
<path d="M860.8,767.7 C861.3,769.1 862.7,773.3 863.6,776.3 C864.5,779.2 865.3,782.2 866.1,785.4 C866.9,788.6 867.8,791.7 868.6,795.5 C869.5,799.3 870.0,800.6 871.2,808.3 C872.4,815.9 874.1,830.8 875.6,841.4 C877.1,852.0 878.5,862.3 880.0,872.2 C881.5,882.1 883.1,893.8 884.4,900.9 C885.7,908.0 886.9,911.7 888.0,915.0 C889.1,918.3 889.7,920.3 891.1,920.7 C892.5,921.1 894.8,920.7 896.6,917.4 C898.4,914.1 900.1,907.0 902.1,900.9 C904.1,894.8 906.5,888.0 908.7,881.0 C910.9,874.0 913.1,865.5 915.3,859.0 C917.5,852.5 919.7,846.5 921.9,842.0 C924.1,837.5 926.3,834.8 928.5,832.0 C930.7,829.2 932.9,827.3 935.0,825.0 C937.1,822.7 939.1,820.7 941.0,818.0 C942.9,815.3 944.8,812.0 946.5,809.0 C948.2,806.0 949.3,803.8 951.0,800.0 C952.7,796.2 954.4,791.6 956.5,786.0 C958.6,780.4 961.4,773.0 963.9,766.5 C966.4,760.0 968.8,753.3 971.2,747.0 C973.7,740.7 976.1,734.3 978.6,728.6 C981.1,722.9 983.5,717.8 986.0,713.0 C988.5,708.2 991.0,704.5 993.3,700.0 C995.6,695.5 998.0,690.4 1000.0,686.0 C1002.0,681.6 1003.3,677.1 1005.3,673.5 C1007.2,669.9 1009.6,666.8 1011.7,664.3 C1013.8,661.8 1016.0,660.0 1018.1,658.8 C1020.2,657.6 1022.2,656.6 1024.5,656.9 C1026.8,657.2 1029.3,658.8 1031.8,660.6 C1034.2,662.5 1036.8,664.9 1039.2,668.0 C1041.7,671.1 1044.5,675.5 1046.5,679.0 C1048.5,682.5 1049.6,685.7 1051.0,689.0 C1052.4,692.3 1052.6,694.3 1054.9,698.7 C1057.2,703.1 1061.3,710.3 1064.8,715.3 C1068.3,720.3 1071.9,724.5 1075.9,728.5 C1080.0,732.5 1085.1,736.0 1089.1,739.5 C1093.1,743.0 1097.2,746.5 1100.1,749.4 C1103.0,752.3 1104.3,754.5 1106.7,757.1 C1109.1,759.7 1111.5,762.8 1114.4,764.8 C1117.3,766.8 1120.9,767.7 1124.3,769.3 C1127.7,770.9 1130.8,773.1 1135.0,774.2 C1139.2,775.3 1144.7,776.1 1149.6,775.8 C1154.5,775.4 1158.3,773.8 1164.5,772.1 C1170.7,770.5 1179.0,767.2 1186.8,765.9 C1194.6,764.6 1203.3,764.9 1211.6,764.1 C1219.9,763.3 1228.1,762.0 1236.4,760.9 C1244.7,759.8 1250.9,758.0 1261.2,757.2 C1271.5,756.4 1283.9,756.3 1298.4,756.0 C1312.9,755.7 1331.5,755.5 1348.0,755.2 C1364.5,754.9 1385.2,754.6 1397.6,754.2 C1410.0,753.8 1414.1,753.0 1422.4,752.7 C1430.7,752.4 1441.4,751.5 1447.2,752.2 C1453.0,753.0 1453.8,754.3 1457.1,757.2 C1460.4,760.1 1465.4,767.5 1467.1,769.6" fill="none" stroke="#e0262a" stroke-width="1.15"/>
<path d="M860.8,755.9 C861.8,756.4 864.6,757.1 866.6,758.9 C868.6,760.7 871.1,764.0 872.7,766.7 C874.3,769.4 875.1,772.2 876.2,775.3 C877.3,778.4 878.2,782.1 879.2,785.4 C880.2,788.7 881.0,790.5 882.2,795.0 C883.5,799.5 885.2,806.8 886.7,812.7 C888.2,818.6 889.5,824.5 891.1,830.4 C892.8,836.3 894.6,844.0 896.6,848.0 C898.6,852.0 900.8,854.6 903.2,854.6 C905.6,854.6 908.1,850.9 910.9,848.0 C913.7,845.1 917.1,840.0 919.8,837.0 C922.5,834.0 924.8,832.1 927.0,829.8 C929.2,827.5 931.1,825.2 933.2,823.0 C935.3,820.8 937.6,819.2 939.8,816.5 C942.0,813.8 944.4,810.0 946.4,807.0 C948.4,804.0 950.1,801.3 952.0,798.2 C953.9,795.1 955.7,791.8 957.5,788.3 C959.3,784.8 961.4,781.0 963.0,777.3 C964.6,773.6 966.0,770.0 967.4,766.3 C968.8,762.6 969.9,759.0 971.2,755.3 C972.5,751.6 973.7,747.9 975.1,744.2 C976.5,740.5 977.9,737.2 979.5,733.2 C981.1,729.2 983.6,723.5 985.0,720.0 C986.4,716.5 986.1,716.4 987.8,712.0 C989.5,707.6 992.7,698.9 995.1,693.7 C997.5,688.5 1000.0,684.6 1002.4,680.8 C1004.8,677.0 1007.3,673.5 1009.8,670.7 C1012.2,668.0 1014.6,665.5 1017.1,664.3 C1019.6,663.1 1022.0,662.5 1024.5,663.4 C1027.0,664.3 1029.3,667.5 1031.8,669.8 C1034.2,672.1 1036.8,674.0 1039.2,677.1 C1041.7,680.2 1044.1,684.1 1046.5,688.2 C1048.9,692.4 1051.1,697.3 1053.8,702.0 C1056.5,706.7 1059.5,711.8 1062.6,716.4 C1065.7,721.0 1069.4,725.8 1072.5,729.6 C1075.6,733.5 1078.3,736.4 1081.4,739.5 C1084.5,742.6 1087.8,746.2 1091.3,748.3 C1094.8,750.4 1098.3,751.1 1102.3,752.2 C1106.3,753.3 1111.7,754.4 1115.5,754.9 C1119.3,755.4 1119.2,755.3 1125.0,755.3 C1130.8,755.3 1137.5,755.1 1150.0,755.0 C1162.5,754.9 1183.3,754.8 1200.0,754.8 C1216.7,754.8 1233.3,754.9 1250.0,755.0 C1266.7,755.1 1283.3,755.2 1300.0,755.2 C1316.7,755.2 1333.3,755.0 1350.0,755.0 C1366.7,755.0 1385.0,755.0 1400.0,755.0 C1415.0,755.0 1428.8,755.0 1440.0,755.0 C1451.2,755.0 1462.9,755.2 1467.5,755.3" fill="none" stroke="#1e1e1e" stroke-width="1.3"/>
<path d="M117.00,70.60 V458.80 H723.90 V446.80" fill="none" stroke="#414143" stroke-width="1.6" stroke-linecap="square"/>
<path d="M117.00,70.60 h12" stroke="#414143" stroke-width="1.4"/>
<path d="M117.00,119.12 h12" stroke="#414143" stroke-width="1.4"/>
<path d="M117.00,167.65 h12" stroke="#414143" stroke-width="1.4"/>
<path d="M117.00,216.18 h12" stroke="#414143" stroke-width="1.4"/>
<path d="M117.00,264.70 h12" stroke="#414143" stroke-width="1.4"/>
<path d="M117.00,313.23 h12" stroke="#414143" stroke-width="1.4"/>
<path d="M117.00,361.75 h12" stroke="#414143" stroke-width="1.4"/>
<path d="M117.00,410.28 h12" stroke="#414143" stroke-width="1.4"/>
<path d="M117.00,458.80 h12" stroke="#414143" stroke-width="1.4"/>
<path d="M238.38,458.80 v-12" stroke="#414143" stroke-width="1.4"/>
<path d="M359.76,458.80 v-12" stroke="#414143" stroke-width="1.4"/>
<path d="M481.14,458.80 v-12" stroke="#414143" stroke-width="1.4"/>
<path d="M602.52,458.80 v-12" stroke="#414143" stroke-width="1.4"/>
<text transform="translate(65.25,79.02) scale(0.9400,1)" font-size="28.17" fill="#000">0.5</text>
<text transform="translate(56.52,176.07) scale(0.9400,1)" font-size="28.17" fill="#000">-0.5</text>
<text transform="translate(55.88,273.11) scale(0.9400,1)" font-size="28.57" fill="#000">-1.5</text>
<text transform="translate(56.52,370.17) scale(0.9400,1)" font-size="28.17" fill="#000">-2.5</text>
<text transform="translate(56.52,467.22) scale(0.9400,1)" font-size="28.17" fill="#000">-3.5</text>
<text transform="translate(108.31,488.97) scale(0.9500,1)" font-size="28.17" fill="#000">0</text>
<text transform="translate(222.13,488.97) scale(0.9500,1)" font-size="28.17" fill="#000">20</text>
<text transform="translate(343.91,488.97) scale(0.9500,1)" font-size="28.17" fill="#000">40</text>
<text transform="translate(464.89,488.97) scale(0.9500,1)" font-size="28.17" fill="#000">60</text>
<text transform="translate(586.33,488.97) scale(0.9500,1)" font-size="28.17" fill="#000">80</text>
<text transform="translate(699.89,488.97) scale(0.9500,1)" font-size="28.17" fill="#000">100</text>
<path d="M860.80,70.60 V458.80 H1467.70 V446.80" fill="none" stroke="#414143" stroke-width="1.6" stroke-linecap="square"/>
<path d="M860.80,70.60 h12" stroke="#414143" stroke-width="1.4"/>
<path d="M860.80,119.12 h12" stroke="#414143" stroke-width="1.4"/>
<path d="M860.80,167.65 h12" stroke="#414143" stroke-width="1.4"/>
<path d="M860.80,216.18 h12" stroke="#414143" stroke-width="1.4"/>
<path d="M860.80,264.70 h12" stroke="#414143" stroke-width="1.4"/>
<path d="M860.80,313.23 h12" stroke="#414143" stroke-width="1.4"/>
<path d="M860.80,361.75 h12" stroke="#414143" stroke-width="1.4"/>
<path d="M860.80,410.28 h12" stroke="#414143" stroke-width="1.4"/>
<path d="M860.80,458.80 h12" stroke="#414143" stroke-width="1.4"/>
<path d="M982.18,458.80 v-12" stroke="#414143" stroke-width="1.4"/>
<path d="M1103.56,458.80 v-12" stroke="#414143" stroke-width="1.4"/>
<path d="M1224.94,458.80 v-12" stroke="#414143" stroke-width="1.4"/>
<path d="M1346.32,458.80 v-12" stroke="#414143" stroke-width="1.4"/>
<text transform="translate(813.05,79.02) scale(0.9400,1)" font-size="28.17" fill="#000">0.5</text>
<text transform="translate(804.32,176.07) scale(0.9400,1)" font-size="28.17" fill="#000">-0.5</text>
<text transform="translate(803.68,273.11) scale(0.9400,1)" font-size="28.57" fill="#000">-1.5</text>
<text transform="translate(804.32,370.17) scale(0.9400,1)" font-size="28.17" fill="#000">-2.5</text>
<text transform="translate(804.32,467.22) scale(0.9400,1)" font-size="28.17" fill="#000">-3.5</text>
<text transform="translate(853.71,488.97) scale(0.9500,1)" font-size="28.17" fill="#000">0</text>
<text transform="translate(967.53,488.97) scale(0.9500,1)" font-size="28.17" fill="#000">20</text>
<text transform="translate(1089.31,488.97) scale(0.9500,1)" font-size="28.17" fill="#000">40</text>
<text transform="translate(1210.29,488.97) scale(0.9500,1)" font-size="28.17" fill="#000">60</text>
<text transform="translate(1331.73,488.97) scale(0.9500,1)" font-size="28.17" fill="#000">80</text>
<text transform="translate(1447.09,488.97) scale(0.9500,1)" font-size="28.17" fill="#000">100</text>
<path d="M117.00,609.40 V997.90 H723.90 V985.90" fill="none" stroke="#414143" stroke-width="1.6" stroke-linecap="square"/>
<path d="M117.00,609.40 h12" stroke="#414143" stroke-width="1.4"/>
<path d="M117.00,657.96 h12" stroke="#414143" stroke-width="1.4"/>
<path d="M117.00,706.52 h12" stroke="#414143" stroke-width="1.4"/>
<path d="M117.00,755.09 h12" stroke="#414143" stroke-width="1.4"/>
<path d="M117.00,803.65 h12" stroke="#414143" stroke-width="1.4"/>
<path d="M117.00,852.21 h12" stroke="#414143" stroke-width="1.4"/>
<path d="M117.00,900.77 h12" stroke="#414143" stroke-width="1.4"/>
<path d="M117.00,949.34 h12" stroke="#414143" stroke-width="1.4"/>
<path d="M117.00,997.90 h12" stroke="#414143" stroke-width="1.4"/>
<path d="M238.38,997.90 v-12" stroke="#414143" stroke-width="1.4"/>
<path d="M359.76,997.90 v-12" stroke="#414143" stroke-width="1.4"/>
<path d="M481.14,997.90 v-12" stroke="#414143" stroke-width="1.4"/>
<path d="M602.52,997.90 v-12" stroke="#414143" stroke-width="1.4"/>
<text transform="translate(72.26,617.81) scale(0.9400,1)" font-size="28.57" fill="#000">15</text>
<text transform="translate(87.17,714.94) scale(0.9400,1)" font-size="28.57" fill="#000">5</text>
<text transform="translate(78.17,812.06) scale(0.9400,1)" font-size="28.57" fill="#000">-5</text>
<text transform="translate(63.27,909.19) scale(0.9400,1)" font-size="28.57" fill="#000">-15</text>
<text transform="translate(63.80,1006.32) scale(0.9400,1)" font-size="28.17" fill="#000">-25</text>
<text transform="translate(108.31,1030.27) scale(0.9500,1)" font-size="28.17" fill="#000">0</text>
<text transform="translate(222.13,1030.27) scale(0.9500,1)" font-size="28.17" fill="#000">20</text>
<text transform="translate(343.91,1030.27) scale(0.9500,1)" font-size="28.17" fill="#000">40</text>
<text transform="translate(464.89,1030.27) scale(0.9500,1)" font-size="28.17" fill="#000">60</text>
<text transform="translate(586.33,1030.27) scale(0.9500,1)" font-size="28.17" fill="#000">80</text>
<text transform="translate(699.89,1030.27) scale(0.9500,1)" font-size="28.17" fill="#000">100</text>
<path d="M860.80,609.40 V997.90 H1467.70 V985.90" fill="none" stroke="#414143" stroke-width="1.6" stroke-linecap="square"/>
<path d="M860.80,609.40 h12" stroke="#414143" stroke-width="1.4"/>
<path d="M860.80,657.96 h12" stroke="#414143" stroke-width="1.4"/>
<path d="M860.80,706.52 h12" stroke="#414143" stroke-width="1.4"/>
<path d="M860.80,755.09 h12" stroke="#414143" stroke-width="1.4"/>
<path d="M860.80,803.65 h12" stroke="#414143" stroke-width="1.4"/>
<path d="M860.80,852.21 h12" stroke="#414143" stroke-width="1.4"/>
<path d="M860.80,900.77 h12" stroke="#414143" stroke-width="1.4"/>
<path d="M860.80,949.34 h12" stroke="#414143" stroke-width="1.4"/>
<path d="M860.80,997.90 h12" stroke="#414143" stroke-width="1.4"/>
<path d="M982.18,997.90 v-12" stroke="#414143" stroke-width="1.4"/>
<path d="M1103.56,997.90 v-12" stroke="#414143" stroke-width="1.4"/>
<path d="M1224.94,997.90 v-12" stroke="#414143" stroke-width="1.4"/>
<path d="M1346.32,997.90 v-12" stroke="#414143" stroke-width="1.4"/>
<text transform="translate(820.06,617.81) scale(0.9400,1)" font-size="28.57" fill="#000">15</text>
<text transform="translate(834.97,714.94) scale(0.9400,1)" font-size="28.57" fill="#000">5</text>
<text transform="translate(825.97,812.06) scale(0.9400,1)" font-size="28.57" fill="#000">-5</text>
<text transform="translate(811.07,909.19) scale(0.9400,1)" font-size="28.57" fill="#000">-15</text>
<text transform="translate(811.60,1006.32) scale(0.9400,1)" font-size="28.17" fill="#000">-25</text>
<text transform="translate(853.71,1030.27) scale(0.9500,1)" font-size="28.17" fill="#000">0</text>
<text transform="translate(967.53,1030.27) scale(0.9500,1)" font-size="28.17" fill="#000">20</text>
<text transform="translate(1089.31,1030.27) scale(0.9500,1)" font-size="28.17" fill="#000">40</text>
<text transform="translate(1210.29,1030.27) scale(0.9500,1)" font-size="28.17" fill="#000">60</text>
<text transform="translate(1331.73,1030.27) scale(0.9500,1)" font-size="28.17" fill="#000">80</text>
<text transform="translate(1447.09,1030.27) scale(0.9500,1)" font-size="28.17" fill="#000">100</text>
<text transform="translate(313.51,22.50) scale(1.0180,1)" font-size="28.14" fill="#000">Rearfoot Striking</text>
<text transform="translate(1058.29,22.50) scale(1.0256,1)" font-size="28.14" fill="#000">Forefoot Striking</text>
<text transform="translate(306.62,1081.80) scale(0.9864,1)" font-size="27.59" fill="#000">Percent Gait Cycle</text>
<text transform="translate(1050.52,1081.80) scale(0.9864,1)" font-size="27.59" fill="#000">Percent Gait Cycle</text>
<text transform="translate(21.70,433.90) rotate(-90) scale(1.0430,1)" font-size="27.17">Ankle Moment/Body Mass</text>
<text transform="translate(58.50,322.92) rotate(-90) scale(1.0356,1)" font-size="27.72">(N-m/kg)</text>
<text transform="translate(22.00,956.60) rotate(-90) scale(0.9939,1)" font-size="27.86">Ankle Power/Body Mass</text>
<text transform="translate(58.00,845.94) rotate(-90) scale(1.0038,1)" font-size="28.83">(W/kg)</text>
<rect x="403.9" y="336.4" width="54.4" height="36.4" fill="#898a8e"/>
<rect x="403.9" y="353.5" width="54.4" height="2.2" fill="#3a3a3c"/>
<rect x="403.9" y="385.4" width="54.4" height="36.4" fill="#a4a6d6"/>
<rect x="403.9" y="402.5" width="54.4" height="2.2" fill="#3446a2"/>
<text transform="translate(470.50,364.80) scale(1.0078,1)" font-size="27.59" fill="#000">Inverse Dynamics</text>
<text transform="translate(470.71,413.10) scale(1.0272,1)" font-size="27.86" fill="#000">Forward Simulation</text>
<rect x="1146.9" y="335.3" width="54.4" height="36.4" fill="#898a8e"/>
<rect x="1146.9" y="352.4" width="54.4" height="2.2" fill="#3a3a3c"/>
<rect x="1146.9" y="384.3" width="54.4" height="36.4" fill="#f7ab92"/>
<rect x="1146.9" y="401.4" width="54.4" height="2.2" fill="#e0202a"/>
<text transform="translate(1213.70,363.90) scale(0.9987,1)" font-size="27.86" fill="#000">Inverse Dynamics</text>
<text transform="translate(1213.91,412.30) scale(1.0171,1)" font-size="28.14" fill="#000">Forward Simulation</text>
</svg></body></html>
